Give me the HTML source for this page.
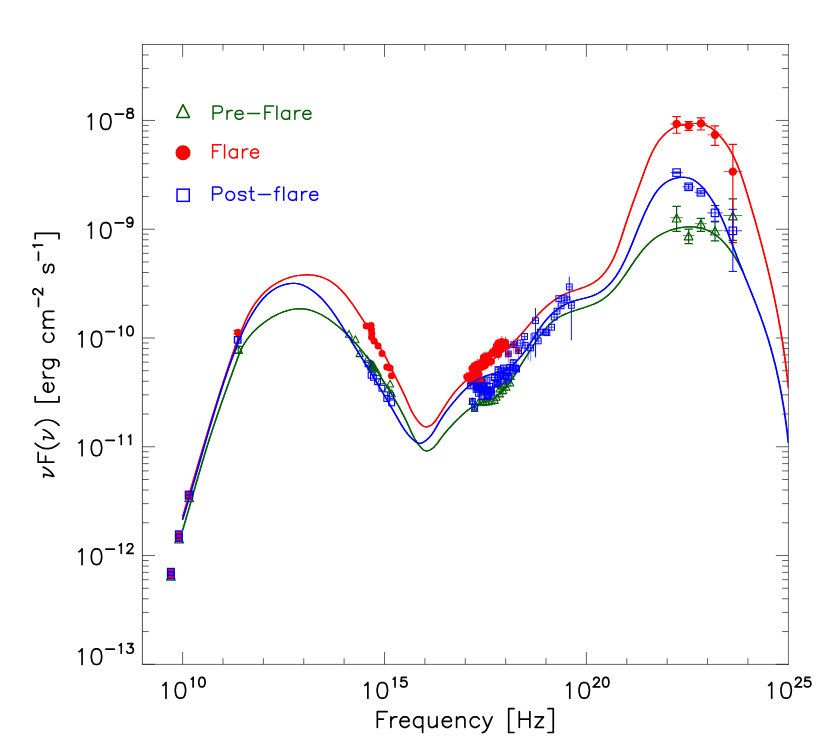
<!DOCTYPE html>
<html><head><meta charset="utf-8"><title>SED</title>
<style>html,body{margin:0;padding:0;background:#fff;font-family:"Liberation Sans",sans-serif;}svg{display:block}</style>
</head><body>
<svg width="830" height="755" viewBox="0 0 830 755">
<defs><clipPath id="clip"><rect x="142.40" y="44.50" width="646.05" height="619.90"/></clipPath></defs>
<rect width="830" height="755" fill="#fff"/>
<line x1="142.40" y1="44.20" x2="142.40" y2="664.70" stroke="#000" stroke-width="0.7"/>
<line x1="142.10" y1="44.50" x2="788.75" y2="44.50" stroke="#000" stroke-width="0.62"/>
<line x1="788.45" y1="44.20" x2="788.45" y2="664.70" stroke="#000" stroke-width="0.56"/>
<line x1="142.10" y1="664.40" x2="788.75" y2="664.40" stroke="#000" stroke-width="0.6"/>
<path d="M182.60 664.40v-12.40M182.60 44.50v12.40M222.98 664.40v-6.20M222.98 44.50v6.20M263.36 664.40v-6.20M263.36 44.50v6.20M303.74 664.40v-6.20M303.74 44.50v6.20M344.12 664.40v-6.20M344.12 44.50v6.20M384.50 664.40v-12.40M384.50 44.50v12.40M424.88 664.40v-6.20M424.88 44.50v6.20M465.26 664.40v-6.20M465.26 44.50v6.20M505.64 664.40v-6.20M505.64 44.50v6.20M546.02 664.40v-6.20M546.02 44.50v6.20M586.40 664.40v-12.40M586.40 44.50v12.40M626.78 664.40v-6.20M626.78 44.50v6.20M667.16 664.40v-6.20M667.16 44.50v6.20M707.54 664.40v-6.20M707.54 44.50v6.20M747.92 664.40v-6.20M747.92 44.50v6.20M142.40 664.30h12.60M788.45 664.30h-12.60M142.40 631.56h6.30M788.45 631.56h-6.30M142.40 612.40h6.30M788.45 612.40h-6.30M142.40 598.81h6.30M788.45 598.81h-6.30M142.40 588.27h6.30M788.45 588.27h-6.30M142.40 579.66h6.30M788.45 579.66h-6.30M142.40 572.38h6.30M788.45 572.38h-6.30M142.40 566.07h6.30M788.45 566.07h-6.30M142.40 560.51h6.30M788.45 560.51h-6.30M142.40 555.53h12.60M788.45 555.53h-12.60M142.40 522.79h6.30M788.45 522.79h-6.30M142.40 503.63h6.30M788.45 503.63h-6.30M142.40 490.04h6.30M788.45 490.04h-6.30M142.40 479.50h6.30M788.45 479.50h-6.30M142.40 470.89h6.30M788.45 470.89h-6.30M142.40 463.61h6.30M788.45 463.61h-6.30M142.40 457.30h6.30M788.45 457.30h-6.30M142.40 451.74h6.30M788.45 451.74h-6.30M142.40 446.76h12.60M788.45 446.76h-12.60M142.40 414.02h6.30M788.45 414.02h-6.30M142.40 394.86h6.30M788.45 394.86h-6.30M142.40 381.27h6.30M788.45 381.27h-6.30M142.40 370.73h6.30M788.45 370.73h-6.30M142.40 362.12h6.30M788.45 362.12h-6.30M142.40 354.84h6.30M788.45 354.84h-6.30M142.40 348.53h6.30M788.45 348.53h-6.30M142.40 342.97h6.30M788.45 342.97h-6.30M142.40 337.99h12.60M788.45 337.99h-12.60M142.40 305.25h6.30M788.45 305.25h-6.30M142.40 286.09h6.30M788.45 286.09h-6.30M142.40 272.50h6.30M788.45 272.50h-6.30M142.40 261.96h6.30M788.45 261.96h-6.30M142.40 253.35h6.30M788.45 253.35h-6.30M142.40 246.07h6.30M788.45 246.07h-6.30M142.40 239.76h6.30M788.45 239.76h-6.30M142.40 234.20h6.30M788.45 234.20h-6.30M142.40 229.22h12.60M788.45 229.22h-12.60M142.40 196.48h6.30M788.45 196.48h-6.30M142.40 177.32h6.30M788.45 177.32h-6.30M142.40 163.73h6.30M788.45 163.73h-6.30M142.40 153.19h6.30M788.45 153.19h-6.30M142.40 144.58h6.30M788.45 144.58h-6.30M142.40 137.30h6.30M788.45 137.30h-6.30M142.40 130.99h6.30M788.45 130.99h-6.30M142.40 125.43h6.30M788.45 125.43h-6.30M142.40 120.45h12.60M788.45 120.45h-12.60M142.40 87.71h6.30M788.45 87.71h-6.30M142.40 68.55h6.30M788.45 68.55h-6.30M142.40 54.96h6.30M788.45 54.96h-6.30" fill="none" stroke="#000" stroke-width="0.62"/>
<path transform="translate(157.63 698.20)" d="M5.24 -12.81L6.54 -13.56M6.54 -13.56L8.36 -15.64M8.36 -15.64L8.36 0.00M22.06 -15.64L23.54 -15.64M22.06 -15.64L19.85 -14.90M23.54 -15.64L25.75 -14.90M19.85 -14.90L18.38 -12.66M25.75 -14.90L27.22 -12.66M18.38 -12.66L17.64 -8.94M27.22 -12.66L27.96 -8.94M17.64 -8.94L17.64 -6.71M27.96 -8.94L27.96 -6.71M17.64 -6.71L18.38 -2.98M27.96 -6.71L27.22 -2.98M18.38 -2.98L19.85 -0.74M27.22 -2.98L25.75 -0.74M19.85 -0.74L22.06 0.00M25.75 -0.74L23.54 0.00M22.06 0.00L23.54 0.00M33.60 -19.07L34.39 -19.52M34.39 -19.52L35.50 -20.79M35.50 -20.79L35.50 -11.25M43.86 -20.79L44.76 -20.79M43.86 -20.79L42.51 -20.34M44.76 -20.79L46.11 -20.34M42.51 -20.34L41.61 -18.98M46.11 -20.34L47.01 -18.98M41.61 -18.98L41.16 -16.70M47.01 -18.98L47.46 -16.70M41.16 -16.70L41.16 -15.34M47.46 -16.70L47.46 -15.34M41.16 -15.34L41.61 -13.07M47.46 -15.34L47.01 -13.07M41.61 -13.07L42.51 -11.70M47.01 -13.07L46.11 -11.70M42.51 -11.70L43.86 -11.25M46.11 -11.70L44.76 -11.25M43.86 -11.25L44.76 -11.25" fill="none" stroke="#000" stroke-width="1.7" stroke-linecap="round" stroke-linejoin="round"/>
<path transform="translate(359.53 698.20)" d="M5.24 -12.81L6.54 -13.56M6.54 -13.56L8.36 -15.64M8.36 -15.64L8.36 0.00M22.06 -15.64L23.54 -15.64M22.06 -15.64L19.85 -14.90M23.54 -15.64L25.75 -14.90M19.85 -14.90L18.38 -12.66M25.75 -14.90L27.22 -12.66M18.38 -12.66L17.64 -8.94M27.22 -12.66L27.96 -8.94M17.64 -8.94L17.64 -6.71M27.96 -8.94L27.96 -6.71M17.64 -6.71L18.38 -2.98M27.96 -6.71L27.22 -2.98M18.38 -2.98L19.85 -0.74M27.22 -2.98L25.75 -0.74M19.85 -0.74L22.06 0.00M25.75 -0.74L23.54 0.00M22.06 0.00L23.54 0.00M33.60 -19.07L34.39 -19.52M34.39 -19.52L35.50 -20.79M35.50 -20.79L35.50 -11.25M41.99 -20.79L46.63 -20.79M41.99 -20.79L41.53 -16.70M43.38 -17.61L44.77 -17.61M43.38 -17.61L41.99 -17.16M44.77 -17.61L46.16 -17.16M41.99 -17.16L41.53 -16.70M46.16 -17.16L47.09 -16.25M47.09 -16.25L47.55 -14.89M47.55 -14.89L47.55 -13.98M47.55 -13.98L47.09 -12.61M41.06 -13.07L41.53 -12.16M47.09 -12.61L46.16 -11.70M41.53 -12.16L41.99 -11.70M41.99 -11.70L43.38 -11.25M46.16 -11.70L44.77 -11.25M43.38 -11.25L44.77 -11.25" fill="none" stroke="#000" stroke-width="1.7" stroke-linecap="round" stroke-linejoin="round"/>
<path transform="translate(561.43 698.20)" d="M5.24 -12.81L6.54 -13.56M6.54 -13.56L8.36 -15.64M8.36 -15.64L8.36 0.00M22.06 -15.64L23.54 -15.64M22.06 -15.64L19.85 -14.90M23.54 -15.64L25.75 -14.90M19.85 -14.90L18.38 -12.66M25.75 -14.90L27.22 -12.66M18.38 -12.66L17.64 -8.94M27.22 -12.66L27.96 -8.94M17.64 -8.94L17.64 -6.71M27.96 -8.94L27.96 -6.71M17.64 -6.71L18.38 -2.98M27.96 -6.71L27.22 -2.98M18.38 -2.98L19.85 -0.74M27.22 -2.98L25.75 -0.74M19.85 -0.74L22.06 0.00M25.75 -0.74L23.54 0.00M22.06 0.00L23.54 0.00M34.11 -20.79L35.96 -20.79M34.11 -20.79L33.18 -20.34M35.96 -20.79L36.89 -20.34M33.18 -20.34L32.72 -19.88M36.89 -20.34L37.35 -19.88M32.72 -19.88L32.25 -18.98M37.35 -19.88L37.82 -18.98M32.25 -18.98L32.25 -18.52M37.82 -18.98L37.82 -18.07M37.82 -18.07L37.35 -17.16M37.35 -17.16L36.43 -15.79M36.43 -15.79L31.79 -11.25M31.79 -11.25L38.28 -11.25M43.86 -20.79L44.76 -20.79M43.86 -20.79L42.51 -20.34M44.76 -20.79L46.11 -20.34M42.51 -20.34L41.61 -18.98M46.11 -20.34L47.01 -18.98M41.61 -18.98L41.16 -16.70M47.01 -18.98L47.46 -16.70M41.16 -16.70L41.16 -15.34M47.46 -16.70L47.46 -15.34M41.16 -15.34L41.61 -13.07M47.46 -15.34L47.01 -13.07M41.61 -13.07L42.51 -11.70M47.01 -13.07L46.11 -11.70M42.51 -11.70L43.86 -11.25M46.11 -11.70L44.76 -11.25M43.86 -11.25L44.76 -11.25" fill="none" stroke="#000" stroke-width="1.7" stroke-linecap="round" stroke-linejoin="round"/>
<path transform="translate(763.33 698.20)" d="M5.24 -12.81L6.54 -13.56M6.54 -13.56L8.36 -15.64M8.36 -15.64L8.36 0.00M22.06 -15.64L23.54 -15.64M22.06 -15.64L19.85 -14.90M23.54 -15.64L25.75 -14.90M19.85 -14.90L18.38 -12.66M25.75 -14.90L27.22 -12.66M18.38 -12.66L17.64 -8.94M27.22 -12.66L27.96 -8.94M17.64 -8.94L17.64 -6.71M27.96 -8.94L27.96 -6.71M17.64 -6.71L18.38 -2.98M27.96 -6.71L27.22 -2.98M18.38 -2.98L19.85 -0.74M27.22 -2.98L25.75 -0.74M19.85 -0.74L22.06 0.00M25.75 -0.74L23.54 0.00M22.06 0.00L23.54 0.00M34.11 -20.79L35.96 -20.79M34.11 -20.79L33.18 -20.34M35.96 -20.79L36.89 -20.34M33.18 -20.34L32.72 -19.88M36.89 -20.34L37.35 -19.88M32.72 -19.88L32.25 -18.98M37.35 -19.88L37.82 -18.98M32.25 -18.98L32.25 -18.52M37.82 -18.98L37.82 -18.07M37.82 -18.07L37.35 -17.16M37.35 -17.16L36.43 -15.79M36.43 -15.79L31.79 -11.25M31.79 -11.25L38.28 -11.25M41.99 -20.79L46.63 -20.79M41.99 -20.79L41.53 -16.70M43.38 -17.61L44.77 -17.61M43.38 -17.61L41.99 -17.16M44.77 -17.61L46.16 -17.16M41.99 -17.16L41.53 -16.70M46.16 -17.16L47.09 -16.25M47.09 -16.25L47.55 -14.89M47.55 -14.89L47.55 -13.98M47.55 -13.98L47.09 -12.61M41.06 -13.07L41.53 -12.16M47.09 -12.61L46.16 -11.70M41.53 -12.16L41.99 -11.70M41.99 -11.70L43.38 -11.25M46.16 -11.70L44.77 -11.25M43.38 -11.25L44.77 -11.25" fill="none" stroke="#000" stroke-width="1.7" stroke-linecap="round" stroke-linejoin="round"/>
<path transform="translate(73.70 664.50)" d="M5.24 -12.81L6.54 -13.56M6.54 -13.56L8.36 -15.64M8.36 -15.64L8.36 0.00M22.06 -15.64L23.54 -15.64M22.06 -15.64L19.85 -14.90M23.54 -15.64L25.75 -14.90M19.85 -14.90L18.38 -12.66M25.75 -14.90L27.22 -12.66M18.38 -12.66L17.64 -8.94M27.22 -12.66L27.96 -8.94M17.64 -8.94L17.64 -6.71M27.96 -8.94L27.96 -6.71M17.64 -6.71L18.38 -2.98M27.96 -6.71L27.22 -2.98M18.38 -2.98L19.85 -0.74M27.22 -2.98L25.75 -0.74M19.85 -0.74L22.06 0.00M25.75 -0.74L23.54 0.00M22.06 0.00L23.54 0.00M32.25 -15.34L40.60 -15.34M45.65 -19.07L46.44 -19.52M46.44 -19.52L47.55 -20.79M47.55 -20.79L47.55 -11.25M54.04 -20.79L59.14 -20.79M59.14 -20.79L56.36 -17.16M56.36 -17.16L57.75 -17.16M57.75 -17.16L58.68 -16.70M58.68 -16.70L59.14 -16.25M59.14 -16.25L59.61 -14.89M59.61 -14.89L59.61 -13.98M59.61 -13.98L59.14 -12.61M53.12 -13.07L53.58 -12.16M59.14 -12.61L58.22 -11.70M53.58 -12.16L54.04 -11.70M54.04 -11.70L55.43 -11.25M58.22 -11.70L56.83 -11.25M55.43 -11.25L56.83 -11.25" fill="none" stroke="#000" stroke-width="1.7" stroke-linecap="round" stroke-linejoin="round"/>
<path transform="translate(73.70 564.53)" d="M5.24 -12.81L6.54 -13.56M6.54 -13.56L8.36 -15.64M8.36 -15.64L8.36 0.00M22.06 -15.64L23.54 -15.64M22.06 -15.64L19.85 -14.90M23.54 -15.64L25.75 -14.90M19.85 -14.90L18.38 -12.66M25.75 -14.90L27.22 -12.66M18.38 -12.66L17.64 -8.94M27.22 -12.66L27.96 -8.94M17.64 -8.94L17.64 -6.71M27.96 -8.94L27.96 -6.71M17.64 -6.71L18.38 -2.98M27.96 -6.71L27.22 -2.98M18.38 -2.98L19.85 -0.74M27.22 -2.98L25.75 -0.74M19.85 -0.74L22.06 0.00M25.75 -0.74L23.54 0.00M22.06 0.00L23.54 0.00M32.25 -15.34L40.60 -15.34M45.65 -19.07L46.44 -19.52M46.44 -19.52L47.55 -20.79M47.55 -20.79L47.55 -11.25M55.43 -20.79L57.29 -20.79M55.43 -20.79L54.51 -20.34M57.29 -20.79L58.22 -20.34M54.51 -20.34L54.04 -19.88M58.22 -20.34L58.68 -19.88M54.04 -19.88L53.58 -18.98M58.68 -19.88L59.14 -18.98M53.58 -18.98L53.58 -18.52M59.14 -18.98L59.14 -18.07M59.14 -18.07L58.68 -17.16M58.68 -17.16L57.75 -15.79M57.75 -15.79L53.12 -11.25M53.12 -11.25L59.61 -11.25" fill="none" stroke="#000" stroke-width="1.7" stroke-linecap="round" stroke-linejoin="round"/>
<path transform="translate(73.70 455.76)" d="M5.24 -12.81L6.54 -13.56M6.54 -13.56L8.36 -15.64M8.36 -15.64L8.36 0.00M22.06 -15.64L23.54 -15.64M22.06 -15.64L19.85 -14.90M23.54 -15.64L25.75 -14.90M19.85 -14.90L18.38 -12.66M25.75 -14.90L27.22 -12.66M18.38 -12.66L17.64 -8.94M27.22 -12.66L27.96 -8.94M17.64 -8.94L17.64 -6.71M27.96 -8.94L27.96 -6.71M17.64 -6.71L18.38 -2.98M27.96 -6.71L27.22 -2.98M18.38 -2.98L19.85 -0.74M27.22 -2.98L25.75 -0.74M19.85 -0.74L22.06 0.00M25.75 -0.74L23.54 0.00M22.06 0.00L23.54 0.00M32.25 -15.34L40.60 -15.34M45.65 -19.07L46.44 -19.52M46.44 -19.52L47.55 -20.79M47.55 -20.79L47.55 -11.25M54.92 -19.07L55.71 -19.52M55.71 -19.52L56.83 -20.79M56.83 -20.79L56.83 -11.25" fill="none" stroke="#000" stroke-width="1.7" stroke-linecap="round" stroke-linejoin="round"/>
<path transform="translate(73.70 346.99)" d="M5.24 -12.81L6.54 -13.56M6.54 -13.56L8.36 -15.64M8.36 -15.64L8.36 0.00M22.06 -15.64L23.54 -15.64M22.06 -15.64L19.85 -14.90M23.54 -15.64L25.75 -14.90M19.85 -14.90L18.38 -12.66M25.75 -14.90L27.22 -12.66M18.38 -12.66L17.64 -8.94M27.22 -12.66L27.96 -8.94M17.64 -8.94L17.64 -6.71M27.96 -8.94L27.96 -6.71M17.64 -6.71L18.38 -2.98M27.96 -6.71L27.22 -2.98M18.38 -2.98L19.85 -0.74M27.22 -2.98L25.75 -0.74M19.85 -0.74L22.06 0.00M25.75 -0.74L23.54 0.00M22.06 0.00L23.54 0.00M32.25 -15.34L40.60 -15.34M45.65 -19.07L46.44 -19.52M46.44 -19.52L47.55 -20.79M47.55 -20.79L47.55 -11.25M55.91 -20.79L56.81 -20.79M55.91 -20.79L54.56 -20.34M56.81 -20.79L58.16 -20.34M54.56 -20.34L53.66 -18.98M58.16 -20.34L59.06 -18.98M53.66 -18.98L53.21 -16.70M59.06 -18.98L59.51 -16.70M53.21 -16.70L53.21 -15.34M59.51 -16.70L59.51 -15.34M53.21 -15.34L53.66 -13.07M59.51 -15.34L59.06 -13.07M53.66 -13.07L54.56 -11.70M59.06 -13.07L58.16 -11.70M54.56 -11.70L55.91 -11.25M58.16 -11.70L56.81 -11.25M55.91 -11.25L56.81 -11.25" fill="none" stroke="#000" stroke-width="1.7" stroke-linecap="round" stroke-linejoin="round"/>
<path transform="translate(82.97 238.22)" d="M5.24 -12.81L6.54 -13.56M6.54 -13.56L8.36 -15.64M8.36 -15.64L8.36 0.00M22.06 -15.64L23.54 -15.64M22.06 -15.64L19.85 -14.90M23.54 -15.64L25.75 -14.90M19.85 -14.90L18.38 -12.66M25.75 -14.90L27.22 -12.66M18.38 -12.66L17.64 -8.94M27.22 -12.66L27.96 -8.94M17.64 -8.94L17.64 -6.71M27.96 -8.94L27.96 -6.71M17.64 -6.71L18.38 -2.98M27.96 -6.71L27.22 -2.98M18.38 -2.98L19.85 -0.74M27.22 -2.98L25.75 -0.74M19.85 -0.74L22.06 0.00M25.75 -0.74L23.54 0.00M22.06 0.00L23.54 0.00M32.25 -15.34L40.60 -15.34M46.63 -20.79L47.09 -20.79M46.63 -20.79L45.24 -20.34M47.09 -20.79L48.48 -20.34M45.24 -20.34L44.31 -19.43M48.48 -20.34L49.41 -19.43M44.31 -19.43L43.84 -18.07M49.41 -19.43L49.87 -17.61M43.84 -18.07L43.84 -17.61M43.84 -17.61L44.31 -16.25M49.87 -17.61L49.41 -16.25M49.87 -17.61L49.87 -15.34M44.31 -16.25L45.24 -15.34M49.41 -16.25L48.48 -15.34M45.24 -15.34L46.63 -14.89M48.48 -15.34L47.09 -14.89M49.87 -15.34L49.41 -13.07M46.63 -14.89L47.09 -14.89M49.41 -13.07L48.48 -11.70M44.31 -12.61L44.77 -11.70M44.77 -11.70L46.16 -11.25M48.48 -11.70L47.09 -11.25M46.16 -11.25L47.09 -11.25" fill="none" stroke="#000" stroke-width="1.7" stroke-linecap="round" stroke-linejoin="round"/>
<path transform="translate(82.97 129.45)" d="M5.24 -12.81L6.54 -13.56M6.54 -13.56L8.36 -15.64M8.36 -15.64L8.36 0.00M22.06 -15.64L23.54 -15.64M22.06 -15.64L19.85 -14.90M23.54 -15.64L25.75 -14.90M19.85 -14.90L18.38 -12.66M25.75 -14.90L27.22 -12.66M18.38 -12.66L17.64 -8.94M27.22 -12.66L27.96 -8.94M17.64 -8.94L17.64 -6.71M27.96 -8.94L27.96 -6.71M17.64 -6.71L18.38 -2.98M27.96 -6.71L27.22 -2.98M18.38 -2.98L19.85 -0.74M27.22 -2.98L25.75 -0.74M19.85 -0.74L22.06 0.00M25.75 -0.74L23.54 0.00M22.06 0.00L23.54 0.00M32.25 -15.34L40.60 -15.34M46.16 -20.79L48.02 -20.79M46.16 -20.79L44.77 -20.34M48.02 -20.79L49.41 -20.34M44.77 -20.34L44.31 -19.43M49.41 -20.34L49.87 -19.43M44.31 -19.43L44.31 -18.52M49.87 -19.43L49.87 -18.52M44.31 -18.52L44.77 -17.61M49.87 -18.52L49.41 -17.61M44.77 -17.61L45.70 -17.16M49.41 -17.61L48.48 -17.16M45.70 -17.16L47.55 -16.70M48.48 -17.16L46.63 -16.70M46.63 -16.70L45.24 -16.25M47.55 -16.70L48.94 -16.25M45.24 -16.25L44.31 -15.34M48.94 -16.25L49.87 -15.34M44.31 -15.34L43.84 -14.43M49.87 -15.34L50.33 -14.43M43.84 -14.43L43.84 -13.07M50.33 -14.43L50.33 -13.07M43.84 -13.07L44.31 -12.16M50.33 -13.07L49.87 -12.16M44.31 -12.16L44.77 -11.70M49.87 -12.16L49.41 -11.70M44.77 -11.70L46.16 -11.25M49.41 -11.70L48.02 -11.25M46.16 -11.25L48.02 -11.25" fill="none" stroke="#000" stroke-width="1.7" stroke-linecap="round" stroke-linejoin="round"/>
<path transform="translate(374.32 727.30)" d="M3.02 -15.64L12.84 -15.64M3.02 -15.64L3.02 0.00M3.02 -8.20L9.06 -8.20M16.61 -10.43L16.61 0.00M20.39 -10.43L22.65 -10.43M20.39 -10.43L18.88 -9.69M18.88 -9.69L17.36 -8.20M17.36 -8.20L16.61 -5.96M29.45 -10.43L31.71 -10.43M29.45 -10.43L27.93 -9.69M31.71 -10.43L33.22 -9.69M27.93 -9.69L26.43 -8.20M33.22 -9.69L33.98 -8.94M33.98 -8.94L34.73 -7.45M26.43 -8.20L25.67 -5.96M34.73 -7.45L34.73 -5.96M25.67 -5.96L34.73 -5.96M25.67 -5.96L25.67 -4.47M25.67 -4.47L26.43 -2.23M26.43 -2.23L27.93 -0.74M34.73 -2.23L33.22 -0.74M27.93 -0.74L29.45 0.00M33.22 -0.74L31.71 0.00M29.45 0.00L31.71 0.00M43.04 -10.43L45.30 -10.43M43.04 -10.43L41.52 -9.69M45.30 -10.43L46.81 -9.69M48.32 -10.43L48.32 5.21M41.52 -9.69L40.02 -8.20M46.81 -9.69L48.32 -8.20M40.02 -8.20L39.26 -5.96M39.26 -5.96L39.26 -4.47M39.26 -4.47L40.02 -2.23M40.02 -2.23L41.52 -0.74M48.32 -2.23L46.81 -0.74M41.52 -0.74L43.04 0.00M46.81 -0.74L45.30 0.00M43.04 0.00L45.30 0.00M54.36 -10.43L54.36 -2.98M62.66 -10.43L62.66 0.00M54.36 -2.98L55.12 -0.74M62.66 -2.98L60.40 -0.74M55.12 -0.74L56.62 0.00M60.40 -0.74L58.89 0.00M56.62 0.00L58.89 0.00M71.72 -10.43L73.99 -10.43M71.72 -10.43L70.22 -9.69M73.99 -10.43L75.50 -9.69M70.22 -9.69L68.70 -8.20M75.50 -9.69L76.25 -8.94M76.25 -8.94L77.01 -7.45M68.70 -8.20L67.95 -5.96M77.01 -7.45L77.01 -5.96M67.95 -5.96L77.01 -5.96M67.95 -5.96L67.95 -4.47M67.95 -4.47L68.70 -2.23M68.70 -2.23L70.22 -0.74M77.01 -2.23L75.50 -0.74M70.22 -0.74L71.72 0.00M75.50 -0.74L73.99 0.00M71.72 0.00L73.99 0.00M82.30 -10.43L82.30 0.00M86.07 -10.43L88.33 -10.43M86.07 -10.43L84.56 -9.69M88.33 -10.43L89.84 -9.69M84.56 -9.69L82.30 -7.45M89.84 -9.69L90.60 -7.45M90.60 -7.45L90.60 0.00M99.66 -10.43L101.92 -10.43M99.66 -10.43L98.15 -9.69M101.92 -10.43L103.44 -9.69M98.15 -9.69L96.64 -8.20M103.44 -9.69L104.95 -8.20M96.64 -8.20L95.89 -5.96M95.89 -5.96L95.89 -4.47M95.89 -4.47L96.64 -2.23M96.64 -2.23L98.15 -0.74M104.95 -2.23L103.44 -0.74M98.15 -0.74L99.66 0.00M103.44 -0.74L101.92 0.00M99.66 0.00L101.92 0.00M108.72 -10.43L113.25 0.00M117.78 -10.43L113.25 0.00M113.25 0.00L111.74 2.98M111.74 2.98L110.23 4.47M110.23 4.47L108.72 5.21M107.97 5.21L108.72 5.21M134.39 -18.62L139.68 -18.62M134.39 -18.62L134.39 5.21M134.39 5.21L139.68 5.21M144.96 -15.64L144.96 0.00M155.53 -15.64L155.53 0.00M144.96 -8.20L155.53 -8.20M160.81 -10.43L169.12 -10.43M169.12 -10.43L160.81 0.00M160.81 0.00L169.12 0.00M173.65 -18.62L178.94 -18.62M178.94 -18.62L178.94 5.21M173.65 5.21L178.94 5.21" fill="none" stroke="#000" stroke-width="1.7" stroke-linecap="round" stroke-linejoin="round"/>
<path transform="translate(53.80 478.60) rotate(-90)" d="M1.51 -10.13L4.23 -10.13M4.23 -10.13L2.27 0.00M2.27 0.00L3.81 -0.90M3.81 -0.90L5.25 -1.92M5.25 -1.92L6.57 -3.06M6.57 -3.06L7.78 -4.32M7.78 -4.32L8.87 -5.70M8.87 -5.70L9.85 -7.21M9.85 -7.21L10.72 -8.83M10.72 -8.83L11.48 -10.58M16.46 -15.64L26.27 -15.64M16.46 -15.64L16.46 0.00M16.46 -8.20L22.50 -8.20M35.33 -18.62L33.82 -17.14M33.82 -17.14L32.31 -14.90M32.31 -14.90L30.80 -11.92M30.80 -11.92L30.05 -8.20M30.05 -8.20L30.05 -5.21M30.05 -5.21L30.80 -1.49M30.80 -1.49L32.31 1.49M32.31 1.49L33.82 3.73M33.82 3.73L35.33 5.21M39.11 -10.13L41.83 -10.13M41.83 -10.13L39.86 0.00M39.86 0.00L41.41 -0.90M41.41 -0.90L42.85 -1.92M42.85 -1.92L44.17 -3.06M44.17 -3.06L45.38 -4.32M45.38 -4.32L46.47 -5.70M46.47 -5.70L47.45 -7.21M47.45 -7.21L48.32 -8.83M48.32 -8.83L49.08 -10.58M53.30 -18.62L54.81 -17.14M54.81 -17.14L56.32 -14.90M56.32 -14.90L57.83 -11.92M57.83 -11.92L58.59 -8.20M58.59 -8.20L58.59 -5.21M58.59 -5.21L57.83 -1.49M57.83 -1.49L56.32 1.49M56.32 1.49L54.81 3.73M54.81 3.73L53.30 5.21M76.71 -18.62L81.99 -18.62M76.71 -18.62L76.71 5.21M76.71 5.21L81.99 5.21M90.30 -10.43L92.56 -10.43M90.30 -10.43L88.79 -9.69M92.56 -10.43L94.07 -9.69M88.79 -9.69L87.28 -8.20M94.07 -9.69L94.83 -8.94M94.83 -8.94L95.58 -7.45M87.28 -8.20L86.52 -5.96M95.58 -7.45L95.58 -5.96M86.52 -5.96L95.58 -5.96M86.52 -5.96L86.52 -4.47M86.52 -4.47L87.28 -2.23M87.28 -2.23L88.79 -0.74M95.58 -2.23L94.07 -0.74M88.79 -0.74L90.30 0.00M94.07 -0.74L92.56 0.00M90.30 0.00L92.56 0.00M100.87 -10.43L100.87 0.00M104.64 -10.43L106.91 -10.43M104.64 -10.43L103.13 -9.69M103.13 -9.69L101.62 -8.20M101.62 -8.20L100.87 -5.96M113.70 -10.43L115.97 -10.43M113.70 -10.43L112.19 -9.69M115.97 -10.43L117.48 -9.69M118.99 -10.43L118.99 1.49M112.19 -9.69L110.68 -8.20M117.48 -9.69L118.99 -8.20M110.68 -8.20L109.93 -5.96M109.93 -5.96L109.93 -4.47M109.93 -4.47L110.68 -2.23M110.68 -2.23L112.19 -0.74M118.99 -2.23L117.48 -0.74M112.19 -0.74L113.70 0.00M117.48 -0.74L115.97 0.00M113.70 0.00L115.97 0.00M118.99 1.49L118.23 3.73M118.23 3.73L117.48 4.47M112.19 4.47L113.70 5.21M117.48 4.47L115.97 5.21M113.70 5.21L115.97 5.21M140.13 -10.43L142.39 -10.43M140.13 -10.43L138.62 -9.69M142.39 -10.43L143.90 -9.69M138.62 -9.69L137.11 -8.20M143.90 -9.69L145.41 -8.20M137.11 -8.20L136.35 -5.96M136.35 -5.96L136.35 -4.47M136.35 -4.47L137.11 -2.23M137.11 -2.23L138.62 -0.74M145.41 -2.23L143.90 -0.74M138.62 -0.74L140.13 0.00M143.90 -0.74L142.39 0.00M140.13 0.00L142.39 0.00M150.70 -10.43L150.70 0.00M154.47 -10.43L156.74 -10.43M154.47 -10.43L152.96 -9.69M156.74 -10.43L158.25 -9.69M162.78 -10.43L165.04 -10.43M162.78 -10.43L161.27 -9.69M165.04 -10.43L166.55 -9.69M152.96 -9.69L150.70 -7.45M158.25 -9.69L159.00 -7.45M161.27 -9.69L159.00 -7.45M166.55 -9.69L167.31 -7.45M159.00 -7.45L159.00 0.00M167.31 -7.45L167.31 0.00M172.17 -15.34L180.46 -15.34M185.99 -20.79L187.83 -20.79M185.99 -20.79L185.07 -20.34M187.83 -20.79L188.75 -20.34M185.07 -20.34L184.61 -19.88M188.75 -20.34L189.21 -19.88M184.61 -19.88L184.14 -18.98M189.21 -19.88L189.67 -18.98M184.14 -18.98L184.14 -18.52M189.67 -18.98L189.67 -18.07M189.67 -18.07L189.21 -17.16M189.21 -17.16L188.29 -15.79M188.29 -15.79L183.68 -11.25M183.68 -11.25L190.13 -11.25M208.88 -10.43L211.14 -10.43M208.88 -10.43L206.61 -9.69M211.14 -10.43L213.41 -9.69M206.61 -9.69L205.86 -8.20M213.41 -9.69L214.16 -8.20M205.86 -8.20L206.61 -6.71M206.61 -6.71L208.12 -5.96M208.12 -5.96L211.90 -5.21M211.90 -5.21L213.41 -4.47M213.41 -4.47L214.16 -2.98M214.16 -2.98L214.16 -2.23M205.86 -2.23L206.61 -0.74M214.16 -2.23L213.41 -0.74M206.61 -0.74L208.88 0.00M213.41 -0.74L211.14 0.00M208.88 0.00L211.14 0.00M218.27 -15.34L226.56 -15.34M231.58 -19.07L232.36 -19.52M232.36 -19.52L233.47 -20.79M233.47 -20.79L233.47 -11.25M239.88 -18.62L245.16 -18.62M245.16 -18.62L245.16 5.21M239.88 5.21L245.16 5.21" fill="none" stroke="#000" stroke-width="1.7" stroke-linecap="round" stroke-linejoin="round"/>
<g clip-path="url(#clip)">
<path d="M170.90 571.91L175.20 580.08L166.60 580.08Z" fill="none" stroke="#065f06" stroke-width="1.3" stroke-linejoin="round"/>
<path d="M179.10 534.71L183.40 542.88L174.80 542.88Z" fill="none" stroke="#065f06" stroke-width="1.3" stroke-linejoin="round"/>
<path d="M189.20 493.41L193.50 501.58L184.90 501.58Z" fill="none" stroke="#065f06" stroke-width="1.3" stroke-linejoin="round"/>
<path d="M238.30 346.40V353.40M234.10 346.40h8.40M234.10 353.40h8.40" fill="none" stroke="#065f06" stroke-width="1.2" opacity="1"/>
<path d="M238.30 345.32L242.40 353.11L234.20 353.11Z" fill="none" stroke="#065f06" stroke-width="1.2" stroke-linejoin="round"/>
<path d="M348.90 330.44L352.50 337.28L345.30 337.28Z" fill="none" stroke="#065f06" stroke-width="1.1" stroke-linejoin="round"/>
<path d="M355.40 335.84L359.00 342.68L351.80 342.68Z" fill="none" stroke="#065f06" stroke-width="1.1" stroke-linejoin="round"/>
<path d="M359.70 349.74L363.30 356.58L356.10 356.58Z" fill="none" stroke="#065f06" stroke-width="1.1" stroke-linejoin="round"/>
<path d="M367.20 355.64L370.80 362.48L363.60 362.48Z" fill="none" stroke="#065f06" stroke-width="1.1" stroke-linejoin="round"/>
<path d="M370.50 359.84L374.10 366.68L366.90 366.68Z" fill="none" stroke="#065f06" stroke-width="1.1" stroke-linejoin="round"/>
<path d="M372.00 361.64L375.60 368.48L368.40 368.48Z" fill="none" stroke="#065f06" stroke-width="1.1" stroke-linejoin="round"/>
<path d="M372.90 363.04L376.50 369.88L369.30 369.88Z" fill="none" stroke="#065f06" stroke-width="1.1" stroke-linejoin="round"/>
<path d="M374.20 364.84L377.80 371.68L370.60 371.68Z" fill="none" stroke="#065f06" stroke-width="1.1" stroke-linejoin="round"/>
<path d="M371.50 363.74L375.10 370.58L367.90 370.58Z" fill="none" stroke="#065f06" stroke-width="1.1" stroke-linejoin="round"/>
<path d="M373.40 361.44L377.00 368.28L369.80 368.28Z" fill="none" stroke="#065f06" stroke-width="1.1" stroke-linejoin="round"/>
<path d="M370.90 362.14L374.50 368.98L367.30 368.98Z" fill="none" stroke="#065f06" stroke-width="1.1" stroke-linejoin="round"/>
<path d="M372.60 364.14L376.20 370.98L369.00 370.98Z" fill="none" stroke="#065f06" stroke-width="1.1" stroke-linejoin="round"/>
<path d="M373.70 363.44L377.30 370.28L370.10 370.28Z" fill="none" stroke="#065f06" stroke-width="1.1" stroke-linejoin="round"/>
<path d="M371.90 360.54L375.50 367.38L368.30 367.38Z" fill="none" stroke="#065f06" stroke-width="1.1" stroke-linejoin="round"/>
<path d="M377.60 368.74L381.20 375.58L374.00 375.58Z" fill="none" stroke="#065f06" stroke-width="1.1" stroke-linejoin="round"/>
<path d="M380.80 376.84L384.40 383.68L377.20 383.68Z" fill="none" stroke="#065f06" stroke-width="1.1" stroke-linejoin="round"/>
<path d="M390.10 380.14L393.70 386.98L386.50 386.98Z" fill="none" stroke="#065f06" stroke-width="1.1" stroke-linejoin="round"/>
<path d="M391.70 389.84L395.30 396.68L388.10 396.68Z" fill="none" stroke="#065f06" stroke-width="1.1" stroke-linejoin="round"/>
<path d="M387.60 385.04L391.20 391.88L384.00 391.88Z" fill="none" stroke="#065f06" stroke-width="1.1" stroke-linejoin="round"/>
<path d="M478.50 398.80V406.60" stroke="#065f06" stroke-width="0.8" opacity="0.8"/>
<path d="M478.50 398.85L481.90 405.31L475.10 405.31Z" fill="none" stroke="#065f06" stroke-width="1.15" stroke-linejoin="round"/>
<path d="M481.20 398.40V406.20" stroke="#065f06" stroke-width="0.8" opacity="0.8"/>
<path d="M481.20 398.45L484.60 404.91L477.80 404.91Z" fill="none" stroke="#065f06" stroke-width="1.15" stroke-linejoin="round"/>
<path d="M483.60 398.90V406.70" stroke="#065f06" stroke-width="0.8" opacity="0.8"/>
<path d="M483.60 398.95L487.00 405.41L480.20 405.41Z" fill="none" stroke="#065f06" stroke-width="1.15" stroke-linejoin="round"/>
<path d="M486.30 398.30V406.10" stroke="#065f06" stroke-width="0.8" opacity="0.8"/>
<path d="M486.30 398.35L489.70 404.81L482.90 404.81Z" fill="none" stroke="#065f06" stroke-width="1.15" stroke-linejoin="round"/>
<path d="M489.20 398.10V405.90" stroke="#065f06" stroke-width="0.8" opacity="0.8"/>
<path d="M489.20 398.15L492.60 404.61L485.80 404.61Z" fill="none" stroke="#065f06" stroke-width="1.15" stroke-linejoin="round"/>
<path d="M491.60 397.40V405.20" stroke="#065f06" stroke-width="0.8" opacity="0.8"/>
<path d="M491.60 397.45L495.00 403.91L488.20 403.91Z" fill="none" stroke="#065f06" stroke-width="1.15" stroke-linejoin="round"/>
<path d="M494.90 396.80V404.60" stroke="#065f06" stroke-width="0.8" opacity="0.8"/>
<path d="M494.90 396.85L498.30 403.31L491.50 403.31Z" fill="none" stroke="#065f06" stroke-width="1.15" stroke-linejoin="round"/>
<path d="M472.40 398.00V405.80" stroke="#065f06" stroke-width="0.8" opacity="0.8"/>
<path d="M472.40 398.05L475.80 404.51L469.00 404.51Z" fill="none" stroke="#065f06" stroke-width="1.15" stroke-linejoin="round"/>
<path d="M474.60 406.10V411.30M473.00 406.10h3.20M473.00 411.30h3.20" fill="none" stroke="#065f06" stroke-width="0.8" opacity="0.8"/>
<path d="M474.60 405.15L477.90 411.42L471.30 411.42Z" fill="none" stroke="#065f06" stroke-width="1.1" stroke-linejoin="round"/>
<path d="M500.20 391.60V396.80M498.60 391.60h3.20M498.60 396.80h3.20" fill="none" stroke="#065f06" stroke-width="0.8" opacity="0.8"/>
<path d="M500.20 390.65L503.50 396.92L496.90 396.92Z" fill="none" stroke="#065f06" stroke-width="1.1" stroke-linejoin="round"/>
<path d="M499.10 386.70V391.90M497.50 386.70h3.20M497.50 391.90h3.20" fill="none" stroke="#065f06" stroke-width="0.8" opacity="0.8"/>
<path d="M499.10 385.75L502.40 392.02L495.80 392.02Z" fill="none" stroke="#065f06" stroke-width="1.1" stroke-linejoin="round"/>
<path d="M503.40 388.30V393.50M501.80 388.30h3.20M501.80 393.50h3.20" fill="none" stroke="#065f06" stroke-width="0.8" opacity="0.8"/>
<path d="M503.40 387.35L506.70 393.62L500.10 393.62Z" fill="none" stroke="#065f06" stroke-width="1.1" stroke-linejoin="round"/>
<path d="M506.70 385.00V390.20M505.10 385.00h3.20M505.10 390.20h3.20" fill="none" stroke="#065f06" stroke-width="0.8" opacity="0.8"/>
<path d="M506.70 384.05L510.00 390.32L503.40 390.32Z" fill="none" stroke="#065f06" stroke-width="1.1" stroke-linejoin="round"/>
<path d="M504.50 381.80V387.00M502.90 381.80h3.20M502.90 387.00h3.20" fill="none" stroke="#065f06" stroke-width="0.8" opacity="0.8"/>
<path d="M504.50 380.85L507.80 387.12L501.20 387.12Z" fill="none" stroke="#065f06" stroke-width="1.1" stroke-linejoin="round"/>
<path d="M510.50 380.70V385.90M508.90 380.70h3.20M508.90 385.90h3.20" fill="none" stroke="#065f06" stroke-width="0.8" opacity="0.8"/>
<path d="M510.50 379.75L513.80 386.02L507.20 386.02Z" fill="none" stroke="#065f06" stroke-width="1.1" stroke-linejoin="round"/>
<path d="M498.00 381.80V387.00M496.40 381.80h3.20M496.40 387.00h3.20" fill="none" stroke="#065f06" stroke-width="0.8" opacity="0.8"/>
<path d="M498.00 380.85L501.30 387.12L494.70 387.12Z" fill="none" stroke="#065f06" stroke-width="1.1" stroke-linejoin="round"/>
<path d="M511.00 374.20V379.40M509.40 374.20h3.20M509.40 379.40h3.20" fill="none" stroke="#065f06" stroke-width="0.8" opacity="0.8"/>
<path d="M511.00 373.25L514.30 379.52L507.70 379.52Z" fill="none" stroke="#065f06" stroke-width="1.1" stroke-linejoin="round"/>
<path d="M496.80 395.00V400.20M495.20 395.00h3.20M495.20 400.20h3.20" fill="none" stroke="#065f06" stroke-width="0.8" opacity="0.8"/>
<path d="M496.80 394.05L500.10 400.32L493.50 400.32Z" fill="none" stroke="#065f06" stroke-width="1.1" stroke-linejoin="round"/>
<path d="M501.50 384.00V389.20M499.90 384.00h3.20M499.90 389.20h3.20" fill="none" stroke="#065f06" stroke-width="0.8" opacity="0.8"/>
<path d="M501.50 383.05L504.80 389.32L498.20 389.32Z" fill="none" stroke="#065f06" stroke-width="1.1" stroke-linejoin="round"/>
<path d="M508.30 377.70V382.90M506.70 377.70h3.20M506.70 382.90h3.20" fill="none" stroke="#065f06" stroke-width="0.8" opacity="0.8"/>
<path d="M508.30 376.75L511.60 383.02L505.00 383.02Z" fill="none" stroke="#065f06" stroke-width="1.1" stroke-linejoin="round"/>
<path d="M676.60 206.40V231.30M672.40 206.40h8.40M672.40 231.30h8.40" fill="none" stroke="#065f06" stroke-width="1.2" opacity="1"/>
<path d="M670.40 217.70H682.80" fill="none" stroke="#065f06" stroke-width="1" opacity="0.7"/>
<path d="M676.60 213.81L680.90 221.98L672.30 221.98Z" fill="none" stroke="#065f06" stroke-width="1.2" stroke-linejoin="round"/>
<path d="M688.65 229.20V243.60M684.45 229.20h8.40M684.45 243.60h8.40" fill="none" stroke="#065f06" stroke-width="1.2" opacity="1"/>
<path d="M682.65 235.60H694.65" fill="none" stroke="#065f06" stroke-width="1" opacity="0.7"/>
<path d="M688.65 231.71L692.95 239.88L684.35 239.88Z" fill="none" stroke="#065f06" stroke-width="1.2" stroke-linejoin="round"/>
<path d="M700.90 218.30V231.30M696.70 218.30h8.40M696.70 231.30h8.40" fill="none" stroke="#065f06" stroke-width="1.2" opacity="1"/>
<path d="M694.90 223.70H706.90" fill="none" stroke="#065f06" stroke-width="1" opacity="0.7"/>
<path d="M700.90 219.81L705.20 227.98L696.60 227.98Z" fill="none" stroke="#065f06" stroke-width="1.2" stroke-linejoin="round"/>
<path d="M715.00 221.90V240.80M710.80 221.90h8.40M710.80 240.80h8.40" fill="none" stroke="#065f06" stroke-width="1.2" opacity="1"/>
<path d="M707.40 230.70H722.60" fill="none" stroke="#065f06" stroke-width="1" opacity="0.7"/>
<path d="M715.00 226.81L719.30 234.98L710.70 234.98Z" fill="none" stroke="#065f06" stroke-width="1.2" stroke-linejoin="round"/>
<path d="M732.85 198.80V240.30M728.65 198.80h8.40M728.65 240.30h8.40" fill="none" stroke="#065f06" stroke-width="1.2" opacity="1"/>
<path d="M723.45 215.50H742.25" fill="none" stroke="#065f06" stroke-width="1" opacity="0.7"/>
<path d="M732.85 211.61L737.15 219.78L728.55 219.78Z" fill="none" stroke="#065f06" stroke-width="1.2" stroke-linejoin="round"/>
<g fill="none" stroke="#065f06" stroke-width="1.22" stroke-linejoin="round"><path transform="translate(-0.27 0)" d="M182.6 530.4L182.9 529.2L183.3 528.1L183.6 527.0L183.9 525.8L184.3 524.7L184.6 523.5L184.9 522.4L185.3 521.3L185.6 520.1L185.9 519.0L186.3 517.8L186.6 516.7L186.9 515.5L187.3 514.4L187.6 513.3L187.9 512.1L188.3 511.0L188.6 509.8L188.9 508.7L189.3 507.5L189.6 506.4L189.9 505.2L190.2 504.1L190.6 502.9L190.9 501.8L191.2 500.6L191.5 499.5L191.9 498.3L192.2 497.2L192.5 496.0L192.9 494.9L193.2 493.7L193.5 492.6L193.8 491.5L194.2 490.3L194.5 489.2L194.8 488.0L195.2 486.9L195.5 485.7L195.8 484.6L196.1 483.4L196.5 482.3L196.8 481.1L197.1 480.0L197.5 478.8L197.8 477.7L198.1 476.5L198.5 475.4L198.8 474.2L199.1 473.1L199.5 471.9L199.8 470.8L200.1 469.6L200.5 468.5L200.8 467.3L201.1 466.2L201.5 465.1L201.8 463.9L202.1 462.8L202.5 461.6L202.8 460.5L203.2 459.3L203.5 458.2L203.9 457.0L204.2 455.9L204.5 454.8L204.9 453.6L205.2 452.5L205.6 451.3L205.9 450.2L206.3 449.1L206.6 447.9L207.0 446.8L207.3 445.6L207.7 444.5L208.0 443.4L208.4 442.2L208.8 441.1L209.1 440.0L209.5 438.8L209.8 437.7L210.2 436.6L210.6 435.4L210.9 434.3L211.3 433.2L211.7 432.0L212.0 430.9L212.4 429.8L212.8 428.6L213.2 427.5L213.5 426.4L213.9 425.3L214.3 424.1L214.7 423.0L215.0 421.9L215.4 420.8L215.8 419.6L216.2 418.5L216.6 417.4L217.0 416.3L217.3 415.1L217.7 414.0L218.1 412.9L218.5 411.8L218.9 410.6L219.3 409.5L219.7 408.4L220.1 407.3L220.4 406.1L220.8 405.0L221.2 403.9L221.6 402.8L222.0 401.6L222.4 400.5L222.8 399.4L223.2 398.3L223.6 397.2L224.0 396.0L224.4 394.9L224.8 393.8L225.2 392.7L225.6 391.5L226.0 390.4L226.4 389.3L226.8 388.2L227.2 387.0L227.6 385.9L228.0 384.8L228.4 383.7L228.8 382.5L229.2 381.4L229.6 380.3L230.0 379.2L230.4 378.0L230.9 376.9L231.3 375.8L231.7 374.7L232.1 373.5L232.5 372.4L232.9 371.3L233.3 370.1L233.7 369.0L234.1 367.9L234.5 366.7L234.9 365.6L235.4 364.5L235.8 363.3L236.2 362.2L236.6 361.1L237.0 359.9L237.4 358.8L237.8 357.7L238.2 356.5L238.7 355.4L239.1 354.3L239.5 353.2L240.0 352.1L240.5 351.0L241.0 349.9L241.5 348.8L242.0 347.8L242.5 346.8L243.1 345.7L243.7 344.7L244.3 343.7L244.9 342.7L245.5 341.8L246.2 340.8L246.8 339.8L247.5 338.9L248.2 338.0L248.9 337.1L249.7 336.1L250.4 335.2L251.2 334.4L251.9 333.5L252.7 332.6L253.5 331.8L254.4 330.9L255.2 330.1L256.1 329.3L257.0 328.5L257.8 327.6L258.7 326.8L259.7 326.1L260.6 325.3L261.6 324.5L262.5 323.7L263.5 323.0L264.5 322.3L265.5 321.5L266.5 320.8L267.5 320.1L268.6 319.4L269.6 318.7L270.7 318.1L271.7 317.4L272.8 316.8L273.9 316.2L275.0 315.6L276.1 315.1L277.2 314.5L278.3 314.0L279.4 313.5L280.6 313.0L281.7 312.5L282.8 312.1L284.0 311.7L285.1 311.3L286.3 310.9L287.4 310.6L288.6 310.3L289.7 310.0L290.9 309.7L292.0 309.5L293.2 309.3L294.3 309.1L295.5 309.0L296.6 308.9L297.8 308.8L298.9 308.8L300.1 308.8L301.2 308.8L302.4 308.8L303.5 308.9L304.6 309.1L305.7 309.2L306.9 309.4L308.0 309.7L309.1 309.9L310.2 310.2L311.3 310.5L312.4 310.9L313.5 311.2L314.6 311.6L315.6 312.1L316.7 312.5L317.8 313.0L318.9 313.5L319.9 314.0L321.0 314.5L322.0 315.1L323.1 315.7L324.1 316.3L325.1 316.9L326.2 317.5L327.2 318.2L328.2 318.8L329.2 319.5L330.2 320.2L331.2 320.9L332.2 321.7L333.1 322.4L334.1 323.1L335.1 323.9L336.0 324.7L337.0 325.4L337.9 326.2L338.9 327.0L339.8 327.8L340.7 328.6L341.6 329.4L342.5 330.2L343.4 331.0L344.3 331.9L345.2 332.7L346.1 333.5L346.9 334.4L347.8 335.2L348.7 336.0L349.5 336.9L350.3 337.7L351.2 338.6L352.0 339.5L352.8 340.3L353.6 341.2L354.4 342.1L355.2 343.0L356.0 343.9L356.8 344.7L357.6 345.6L358.4 346.5L359.2 347.4L359.9 348.3L360.7 349.2L361.5 350.2L362.2 351.1L363.0 352.0L363.7 352.9L364.4 353.8L365.2 354.8L365.9 355.7L366.6 356.6L367.3 357.6L368.0 358.5L368.8 359.5L369.5 360.4L370.2 361.4L370.9 362.3L371.6 363.3L372.2 364.3L372.9 365.2L373.6 366.2L374.3 367.2L375.0 368.1L375.6 369.1L376.3 370.1L377.0 371.1L377.6 372.0L378.3 373.0L378.9 374.0L379.6 375.0L380.2 376.0L380.9 377.0L381.5 378.0L382.2 379.0L382.8 380.0L383.4 381.0L384.1 382.0L384.7 383.0L385.3 384.0L386.0 385.0L386.6 386.0L387.2 387.0L387.8 388.0L388.5 389.1L389.1 390.1L389.7 391.1L390.3 392.1L390.9 393.1L391.6 394.2L392.2 395.2L392.8 396.2L393.4 397.2L394.0 398.3L394.6 399.3L395.2 400.3L395.8 401.4L396.4 402.4L397.0 403.4L397.6 404.5L398.2 405.5L398.8 406.5L399.4 407.6L399.9 408.6L400.5 409.7L401.1 410.7L401.6 411.8L402.2 412.9L402.7 413.9L403.3 415.0L403.8 416.0L404.4 417.1L404.9 418.2L405.4 419.3L406.0 420.3L406.5 421.4L407.0 422.5L407.5 423.6L408.0 424.7L408.5 425.8L409.0 426.8L409.5 427.9L409.9 429.0L410.4 430.1L410.9 431.2L411.4 432.3L412.0 433.4L412.5 434.4L413.0 435.5L413.6 436.6L414.1 437.6L414.7 438.7L415.3 439.7L415.9 440.7L416.6 441.7L417.2 442.7L417.9 443.7L418.6 444.7L419.4 445.6L420.2 446.6L421.0 447.5L421.8 448.4L422.7 449.2L423.7 449.9L424.6 450.5L425.6 450.8L426.7 450.9L427.8 450.8L428.9 450.5L430.0 450.0L431.1 449.4L432.2 448.6L433.2 447.9L434.1 447.0L434.9 446.1L435.7 445.2L436.5 444.3L437.3 443.3L438.0 442.4L438.7 441.4L439.4 440.4L440.1 439.4L440.8 438.5L441.5 437.5L442.2 436.5L443.0 435.6L443.7 434.7L444.5 433.7L445.2 432.8L446.0 431.9L446.8 431.0L447.5 430.1L448.3 429.2L449.1 428.3L449.9 427.5L450.7 426.6L451.5 425.7L452.3 424.9L453.1 424.0L453.9 423.1L454.8 422.3L455.6 421.4L456.4 420.6L457.3 419.7L458.1 418.9L459.0 418.1L459.8 417.2L460.7 416.4L461.5 415.6L462.4 414.8L463.3 413.9L464.2 413.2L465.1 412.4L466.0 411.6L466.9 410.9L467.9 410.1L468.8 409.4L469.8 408.7L470.8 408.0L471.8 407.4L472.8 406.8L473.8 406.2L474.9 405.6L475.9 405.1L477.0 404.6L478.1 404.1L479.3 403.6L480.4 403.2L481.5 402.8L482.7 402.4L483.9 402.0L485.0 401.6L486.2 401.2L487.3 400.8L488.5 400.4L489.6 399.9L490.7 399.5L491.8 399.0L492.8 398.5L493.9 397.9L494.9 397.3L495.9 396.7L496.8 396.1L497.8 395.4L498.7 394.7L499.6 393.9L500.5 393.2L501.4 392.4L502.2 391.6L503.0 390.8L503.8 389.9L504.6 389.1L505.4 388.2L506.2 387.3L506.9 386.3L507.7 385.4L508.4 384.4L509.1 383.5L509.8 382.5L510.5 381.5L511.2 380.5L511.8 379.5L512.5 378.5L513.2 377.5L513.8 376.4L514.5 375.4L515.1 374.4L515.7 373.3L516.4 372.3L517.0 371.3L517.6 370.2L518.3 369.2L518.9 368.2L519.5 367.2L520.2 366.2L520.8 365.1L521.4 364.1L522.0 363.1L522.7 362.1L523.3 361.1L523.9 360.1L524.6 359.1L525.2 358.2L525.8 357.2L526.5 356.2L527.1 355.2L527.8 354.2L528.4 353.2L529.0 352.2L529.7 351.2L530.3 350.2L531.0 349.2L531.6 348.2L532.3 347.2L532.9 346.2L533.6 345.2L534.2 344.2L534.9 343.2L535.5 342.2L536.2 341.2L536.9 340.2L537.5 339.2L538.2 338.2L538.9 337.2L539.6 336.2L540.3 335.2L541.0 334.3L541.8 333.3L542.5 332.4L543.2 331.4L544.0 330.5L544.7 329.6L545.5 328.7L546.3 327.8L547.1 326.9L547.9 326.1L548.7 325.2L549.6 324.4L550.4 323.6L551.3 322.8L552.2 322.0L553.1 321.3L554.0 320.6L554.9 319.9L555.9 319.2L556.8 318.5L557.8 317.9L558.8 317.3L559.8 316.7L560.9 316.2L561.9 315.6L563.0 315.1L564.1 314.6L565.2 314.1L566.3 313.6L567.4 313.2L568.5 312.8L569.7 312.3L570.8 311.9L571.9 311.5L573.1 311.1L574.3 310.7L575.4 310.3L576.6 310.0L577.7 309.6L578.9 309.2L580.1 308.9L581.2 308.5L582.4 308.1L583.6 307.8L584.7 307.4L585.9 307.0L587.0 306.6L588.2 306.2L589.3 305.8L590.4 305.4L591.5 305.0L592.7 304.5L593.8 304.1L594.8 303.6L595.9 303.1L597.0 302.6L598.0 302.1L599.1 301.5L600.1 300.9L601.1 300.4L602.1 299.7L603.0 299.1L604.0 298.4L604.9 297.7L605.9 297.0L606.8 296.3L607.7 295.5L608.6 294.7L609.4 293.9L610.3 293.1L611.1 292.3L612.0 291.5L612.8 290.6L613.6 289.7L614.4 288.9L615.2 288.0L615.9 287.1L616.7 286.1L617.5 285.2L618.2 284.3L619.0 283.3L619.7 282.4L620.4 281.4L621.1 280.5L621.8 279.5L622.5 278.5L623.2 277.5L623.9 276.6L624.6 275.6L625.3 274.6L626.0 273.6L626.6 272.6L627.3 271.6L628.0 270.6L628.7 269.6L629.3 268.6L630.0 267.6L630.7 266.6L631.3 265.6L632.0 264.6L632.7 263.6L633.4 262.6L634.0 261.6L634.7 260.6L635.4 259.7L636.1 258.7L636.8 257.7L637.5 256.8L638.2 255.8L638.9 254.9L639.6 253.9L640.3 253.0L641.1 252.1L641.8 251.1L642.5 250.2L643.3 249.3L644.1 248.5L644.9 247.6L645.6 246.7L646.4 245.9L647.3 245.0L648.1 244.2L648.9 243.4L649.8 242.6L650.6 241.8L651.5 241.0L652.4 240.3L653.3 239.6L654.2 238.8L655.2 238.1L656.1 237.5L657.1 236.8L658.1 236.1L659.1 235.5L660.2 234.9L661.2 234.3L662.3 233.7L663.3 233.2L664.4 232.7L665.5 232.2L666.6 231.7L667.8 231.2L668.9 230.8L670.0 230.3L671.2 229.9L672.4 229.6L673.5 229.2L674.7 228.9L675.9 228.6L677.1 228.3L678.3 228.0L679.5 227.8L680.7 227.6L681.9 227.4L683.2 227.3L684.4 227.1L685.6 227.0L686.8 226.9L688.1 226.9L689.3 226.9L690.5 226.9L691.8 226.9L693.0 226.9L694.2 227.0L695.4 227.1L696.6 227.3L697.8 227.5L698.9 227.7L700.1 227.9L701.3 228.2L702.4 228.5L703.5 228.8L704.6 229.2L705.7 229.6L706.7 230.0L707.8 230.4L708.8 230.9L709.8 231.4L710.8 232.0L711.8 232.5L712.8 233.1L713.8 233.7L714.7 234.4L715.6 235.0L716.5 235.7L717.5 236.4L718.3 237.1L719.2 237.9L720.1 238.6L720.9 239.4L721.8 240.2L722.6 241.0L723.4 241.9L724.2 242.7L725.0 243.6L725.8 244.5L726.6 245.4L727.3 246.3L728.1 247.3L728.8 248.2L729.5 249.2L730.2 250.2L730.9 251.1L731.6 252.1L732.3 253.1L733.0 254.2L733.7 255.2L734.3 256.2L735.0 257.3L735.6 258.3L736.2 259.4L736.9 260.4L737.5 261.5L738.1 262.5L738.7 263.6L739.3 264.7L739.9 265.8L740.4 266.9L741.0 267.9L741.6 269.0L742.1 270.1L742.7 271.2"/><path transform="translate(0.27 0)" d="M182.6 530.4L182.9 529.2L183.3 528.1L183.6 527.0L183.9 525.8L184.3 524.7L184.6 523.5L184.9 522.4L185.3 521.3L185.6 520.1L185.9 519.0L186.3 517.8L186.6 516.7L186.9 515.5L187.3 514.4L187.6 513.3L187.9 512.1L188.3 511.0L188.6 509.8L188.9 508.7L189.3 507.5L189.6 506.4L189.9 505.2L190.2 504.1L190.6 502.9L190.9 501.8L191.2 500.6L191.5 499.5L191.9 498.3L192.2 497.2L192.5 496.0L192.9 494.9L193.2 493.7L193.5 492.6L193.8 491.5L194.2 490.3L194.5 489.2L194.8 488.0L195.2 486.9L195.5 485.7L195.8 484.6L196.1 483.4L196.5 482.3L196.8 481.1L197.1 480.0L197.5 478.8L197.8 477.7L198.1 476.5L198.5 475.4L198.8 474.2L199.1 473.1L199.5 471.9L199.8 470.8L200.1 469.6L200.5 468.5L200.8 467.3L201.1 466.2L201.5 465.1L201.8 463.9L202.1 462.8L202.5 461.6L202.8 460.5L203.2 459.3L203.5 458.2L203.9 457.0L204.2 455.9L204.5 454.8L204.9 453.6L205.2 452.5L205.6 451.3L205.9 450.2L206.3 449.1L206.6 447.9L207.0 446.8L207.3 445.6L207.7 444.5L208.0 443.4L208.4 442.2L208.8 441.1L209.1 440.0L209.5 438.8L209.8 437.7L210.2 436.6L210.6 435.4L210.9 434.3L211.3 433.2L211.7 432.0L212.0 430.9L212.4 429.8L212.8 428.6L213.2 427.5L213.5 426.4L213.9 425.3L214.3 424.1L214.7 423.0L215.0 421.9L215.4 420.8L215.8 419.6L216.2 418.5L216.6 417.4L217.0 416.3L217.3 415.1L217.7 414.0L218.1 412.9L218.5 411.8L218.9 410.6L219.3 409.5L219.7 408.4L220.1 407.3L220.4 406.1L220.8 405.0L221.2 403.9L221.6 402.8L222.0 401.6L222.4 400.5L222.8 399.4L223.2 398.3L223.6 397.2L224.0 396.0L224.4 394.9L224.8 393.8L225.2 392.7L225.6 391.5L226.0 390.4L226.4 389.3L226.8 388.2L227.2 387.0L227.6 385.9L228.0 384.8L228.4 383.7L228.8 382.5L229.2 381.4L229.6 380.3L230.0 379.2L230.4 378.0L230.9 376.9L231.3 375.8L231.7 374.7L232.1 373.5L232.5 372.4L232.9 371.3L233.3 370.1L233.7 369.0L234.1 367.9L234.5 366.7L234.9 365.6L235.4 364.5L235.8 363.3L236.2 362.2L236.6 361.1L237.0 359.9L237.4 358.8L237.8 357.7L238.2 356.5L238.7 355.4L239.1 354.3L239.5 353.2L240.0 352.1L240.5 351.0L241.0 349.9L241.5 348.8L242.0 347.8L242.5 346.8L243.1 345.7L243.7 344.7L244.3 343.7L244.9 342.7L245.5 341.8L246.2 340.8L246.8 339.8L247.5 338.9L248.2 338.0L248.9 337.1L249.7 336.1L250.4 335.2L251.2 334.4L251.9 333.5L252.7 332.6L253.5 331.8L254.4 330.9L255.2 330.1L256.1 329.3L257.0 328.5L257.8 327.6L258.7 326.8L259.7 326.1L260.6 325.3L261.6 324.5L262.5 323.7L263.5 323.0L264.5 322.3L265.5 321.5L266.5 320.8L267.5 320.1L268.6 319.4L269.6 318.7L270.7 318.1L271.7 317.4L272.8 316.8L273.9 316.2L275.0 315.6L276.1 315.1L277.2 314.5L278.3 314.0L279.4 313.5L280.6 313.0L281.7 312.5L282.8 312.1L284.0 311.7L285.1 311.3L286.3 310.9L287.4 310.6L288.6 310.3L289.7 310.0L290.9 309.7L292.0 309.5L293.2 309.3L294.3 309.1L295.5 309.0L296.6 308.9L297.8 308.8L298.9 308.8L300.1 308.8L301.2 308.8L302.4 308.8L303.5 308.9L304.6 309.1L305.7 309.2L306.9 309.4L308.0 309.7L309.1 309.9L310.2 310.2L311.3 310.5L312.4 310.9L313.5 311.2L314.6 311.6L315.6 312.1L316.7 312.5L317.8 313.0L318.9 313.5L319.9 314.0L321.0 314.5L322.0 315.1L323.1 315.7L324.1 316.3L325.1 316.9L326.2 317.5L327.2 318.2L328.2 318.8L329.2 319.5L330.2 320.2L331.2 320.9L332.2 321.7L333.1 322.4L334.1 323.1L335.1 323.9L336.0 324.7L337.0 325.4L337.9 326.2L338.9 327.0L339.8 327.8L340.7 328.6L341.6 329.4L342.5 330.2L343.4 331.0L344.3 331.9L345.2 332.7L346.1 333.5L346.9 334.4L347.8 335.2L348.7 336.0L349.5 336.9L350.3 337.7L351.2 338.6L352.0 339.5L352.8 340.3L353.6 341.2L354.4 342.1L355.2 343.0L356.0 343.9L356.8 344.7L357.6 345.6L358.4 346.5L359.2 347.4L359.9 348.3L360.7 349.2L361.5 350.2L362.2 351.1L363.0 352.0L363.7 352.9L364.4 353.8L365.2 354.8L365.9 355.7L366.6 356.6L367.3 357.6L368.0 358.5L368.8 359.5L369.5 360.4L370.2 361.4L370.9 362.3L371.6 363.3L372.2 364.3L372.9 365.2L373.6 366.2L374.3 367.2L375.0 368.1L375.6 369.1L376.3 370.1L377.0 371.1L377.6 372.0L378.3 373.0L378.9 374.0L379.6 375.0L380.2 376.0L380.9 377.0L381.5 378.0L382.2 379.0L382.8 380.0L383.4 381.0L384.1 382.0L384.7 383.0L385.3 384.0L386.0 385.0L386.6 386.0L387.2 387.0L387.8 388.0L388.5 389.1L389.1 390.1L389.7 391.1L390.3 392.1L390.9 393.1L391.6 394.2L392.2 395.2L392.8 396.2L393.4 397.2L394.0 398.3L394.6 399.3L395.2 400.3L395.8 401.4L396.4 402.4L397.0 403.4L397.6 404.5L398.2 405.5L398.8 406.5L399.4 407.6L399.9 408.6L400.5 409.7L401.1 410.7L401.6 411.8L402.2 412.9L402.7 413.9L403.3 415.0L403.8 416.0L404.4 417.1L404.9 418.2L405.4 419.3L406.0 420.3L406.5 421.4L407.0 422.5L407.5 423.6L408.0 424.7L408.5 425.8L409.0 426.8L409.5 427.9L409.9 429.0L410.4 430.1L410.9 431.2L411.4 432.3L412.0 433.4L412.5 434.4L413.0 435.5L413.6 436.6L414.1 437.6L414.7 438.7L415.3 439.7L415.9 440.7L416.6 441.7L417.2 442.7L417.9 443.7L418.6 444.7L419.4 445.6L420.2 446.6L421.0 447.5L421.8 448.4L422.7 449.2L423.7 449.9L424.6 450.5L425.6 450.8L426.7 450.9L427.8 450.8L428.9 450.5L430.0 450.0L431.1 449.4L432.2 448.6L433.2 447.9L434.1 447.0L434.9 446.1L435.7 445.2L436.5 444.3L437.3 443.3L438.0 442.4L438.7 441.4L439.4 440.4L440.1 439.4L440.8 438.5L441.5 437.5L442.2 436.5L443.0 435.6L443.7 434.7L444.5 433.7L445.2 432.8L446.0 431.9L446.8 431.0L447.5 430.1L448.3 429.2L449.1 428.3L449.9 427.5L450.7 426.6L451.5 425.7L452.3 424.9L453.1 424.0L453.9 423.1L454.8 422.3L455.6 421.4L456.4 420.6L457.3 419.7L458.1 418.9L459.0 418.1L459.8 417.2L460.7 416.4L461.5 415.6L462.4 414.8L463.3 413.9L464.2 413.2L465.1 412.4L466.0 411.6L466.9 410.9L467.9 410.1L468.8 409.4L469.8 408.7L470.8 408.0L471.8 407.4L472.8 406.8L473.8 406.2L474.9 405.6L475.9 405.1L477.0 404.6L478.1 404.1L479.3 403.6L480.4 403.2L481.5 402.8L482.7 402.4L483.9 402.0L485.0 401.6L486.2 401.2L487.3 400.8L488.5 400.4L489.6 399.9L490.7 399.5L491.8 399.0L492.8 398.5L493.9 397.9L494.9 397.3L495.9 396.7L496.8 396.1L497.8 395.4L498.7 394.7L499.6 393.9L500.5 393.2L501.4 392.4L502.2 391.6L503.0 390.8L503.8 389.9L504.6 389.1L505.4 388.2L506.2 387.3L506.9 386.3L507.7 385.4L508.4 384.4L509.1 383.5L509.8 382.5L510.5 381.5L511.2 380.5L511.8 379.5L512.5 378.5L513.2 377.5L513.8 376.4L514.5 375.4L515.1 374.4L515.7 373.3L516.4 372.3L517.0 371.3L517.6 370.2L518.3 369.2L518.9 368.2L519.5 367.2L520.2 366.2L520.8 365.1L521.4 364.1L522.0 363.1L522.7 362.1L523.3 361.1L523.9 360.1L524.6 359.1L525.2 358.2L525.8 357.2L526.5 356.2L527.1 355.2L527.8 354.2L528.4 353.2L529.0 352.2L529.7 351.2L530.3 350.2L531.0 349.2L531.6 348.2L532.3 347.2L532.9 346.2L533.6 345.2L534.2 344.2L534.9 343.2L535.5 342.2L536.2 341.2L536.9 340.2L537.5 339.2L538.2 338.2L538.9 337.2L539.6 336.2L540.3 335.2L541.0 334.3L541.8 333.3L542.5 332.4L543.2 331.4L544.0 330.5L544.7 329.6L545.5 328.7L546.3 327.8L547.1 326.9L547.9 326.1L548.7 325.2L549.6 324.4L550.4 323.6L551.3 322.8L552.2 322.0L553.1 321.3L554.0 320.6L554.9 319.9L555.9 319.2L556.8 318.5L557.8 317.9L558.8 317.3L559.8 316.7L560.9 316.2L561.9 315.6L563.0 315.1L564.1 314.6L565.2 314.1L566.3 313.6L567.4 313.2L568.5 312.8L569.7 312.3L570.8 311.9L571.9 311.5L573.1 311.1L574.3 310.7L575.4 310.3L576.6 310.0L577.7 309.6L578.9 309.2L580.1 308.9L581.2 308.5L582.4 308.1L583.6 307.8L584.7 307.4L585.9 307.0L587.0 306.6L588.2 306.2L589.3 305.8L590.4 305.4L591.5 305.0L592.7 304.5L593.8 304.1L594.8 303.6L595.9 303.1L597.0 302.6L598.0 302.1L599.1 301.5L600.1 300.9L601.1 300.4L602.1 299.7L603.0 299.1L604.0 298.4L604.9 297.7L605.9 297.0L606.8 296.3L607.7 295.5L608.6 294.7L609.4 293.9L610.3 293.1L611.1 292.3L612.0 291.5L612.8 290.6L613.6 289.7L614.4 288.9L615.2 288.0L615.9 287.1L616.7 286.1L617.5 285.2L618.2 284.3L619.0 283.3L619.7 282.4L620.4 281.4L621.1 280.5L621.8 279.5L622.5 278.5L623.2 277.5L623.9 276.6L624.6 275.6L625.3 274.6L626.0 273.6L626.6 272.6L627.3 271.6L628.0 270.6L628.7 269.6L629.3 268.6L630.0 267.6L630.7 266.6L631.3 265.6L632.0 264.6L632.7 263.6L633.4 262.6L634.0 261.6L634.7 260.6L635.4 259.7L636.1 258.7L636.8 257.7L637.5 256.8L638.2 255.8L638.9 254.9L639.6 253.9L640.3 253.0L641.1 252.1L641.8 251.1L642.5 250.2L643.3 249.3L644.1 248.5L644.9 247.6L645.6 246.7L646.4 245.9L647.3 245.0L648.1 244.2L648.9 243.4L649.8 242.6L650.6 241.8L651.5 241.0L652.4 240.3L653.3 239.6L654.2 238.8L655.2 238.1L656.1 237.5L657.1 236.8L658.1 236.1L659.1 235.5L660.2 234.9L661.2 234.3L662.3 233.7L663.3 233.2L664.4 232.7L665.5 232.2L666.6 231.7L667.8 231.2L668.9 230.8L670.0 230.3L671.2 229.9L672.4 229.6L673.5 229.2L674.7 228.9L675.9 228.6L677.1 228.3L678.3 228.0L679.5 227.8L680.7 227.6L681.9 227.4L683.2 227.3L684.4 227.1L685.6 227.0L686.8 226.9L688.1 226.9L689.3 226.9L690.5 226.9L691.8 226.9L693.0 226.9L694.2 227.0L695.4 227.1L696.6 227.3L697.8 227.5L698.9 227.7L700.1 227.9L701.3 228.2L702.4 228.5L703.5 228.8L704.6 229.2L705.7 229.6L706.7 230.0L707.8 230.4L708.8 230.9L709.8 231.4L710.8 232.0L711.8 232.5L712.8 233.1L713.8 233.7L714.7 234.4L715.6 235.0L716.5 235.7L717.5 236.4L718.3 237.1L719.2 237.9L720.1 238.6L720.9 239.4L721.8 240.2L722.6 241.0L723.4 241.9L724.2 242.7L725.0 243.6L725.8 244.5L726.6 245.4L727.3 246.3L728.1 247.3L728.8 248.2L729.5 249.2L730.2 250.2L730.9 251.1L731.6 252.1L732.3 253.1L733.0 254.2L733.7 255.2L734.3 256.2L735.0 257.3L735.6 258.3L736.2 259.4L736.9 260.4L737.5 261.5L738.1 262.5L738.7 263.6L739.3 264.7L739.9 265.8L740.4 266.9L741.0 267.9L741.6 269.0L742.1 270.1L742.7 271.2"/></g>
<circle cx="170.90" cy="571.80" r="3.50" fill="#ff0000"/>
<circle cx="170.90" cy="575.60" r="3.50" fill="#ff0000"/>
<circle cx="179.10" cy="534.40" r="3.50" fill="#ff0000"/>
<circle cx="179.10" cy="538.20" r="3.50" fill="#ff0000"/>
<circle cx="189.10" cy="494.20" r="3.50" fill="#ff0000"/>
<circle cx="189.10" cy="497.00" r="3.50" fill="#ff0000"/>
<path d="M237.80 330.60V334.20M233.60 330.60h8.40M233.60 334.20h8.40" fill="none" stroke="#ff0000" stroke-width="1.2" opacity="1"/>
<circle cx="237.80" cy="332.40" r="3.60" fill="#ff0000"/>
<circle cx="366.20" cy="326.10" r="3.50" fill="#ff0000"/>
<circle cx="371.10" cy="325.50" r="3.50" fill="#ff0000"/>
<circle cx="371.40" cy="329.60" r="3.50" fill="#ff0000"/>
<circle cx="371.80" cy="333.50" r="3.50" fill="#ff0000"/>
<circle cx="371.60" cy="337.20" r="3.50" fill="#ff0000"/>
<circle cx="374.10" cy="341.00" r="3.50" fill="#ff0000"/>
<circle cx="378.10" cy="345.90" r="3.50" fill="#ff0000"/>
<circle cx="382.10" cy="353.50" r="3.50" fill="#ff0000"/>
<circle cx="386.80" cy="367.00" r="3.50" fill="#ff0000"/>
<circle cx="390.10" cy="368.10" r="3.50" fill="#ff0000"/>
<circle cx="391.50" cy="375.70" r="3.50" fill="#ff0000"/>
<path d="M498.00 338.04V347.61" stroke="#ff0000" stroke-width="0.9" opacity="0.8"/>
<path d="M501.80 336.02V345.89" stroke="#ff0000" stroke-width="0.9" opacity="0.8"/>
<path d="M505.60 336.92V347.00" stroke="#ff0000" stroke-width="0.9" opacity="0.8"/>
<path d="M503.43 340.53V350.21" stroke="#ff0000" stroke-width="0.9" opacity="0.8"/>
<path d="M499.63 341.64V351.21" stroke="#ff0000" stroke-width="0.9" opacity="0.8"/>
<path d="M506.91 341.60V350.80" stroke="#ff0000" stroke-width="0.9" opacity="0.8"/>
<path d="M496.37 340.63V351.14" stroke="#ff0000" stroke-width="0.9" opacity="0.8"/>
<path d="M492.57 346.97V356.38" stroke="#ff0000" stroke-width="0.9" opacity="0.8"/>
<path d="M495.83 343.32V354.21" stroke="#ff0000" stroke-width="0.9" opacity="0.8"/>
<path d="M490.40 349.14V359.31" stroke="#ff0000" stroke-width="0.9" opacity="0.8"/>
<path d="M494.74 347.57V357.80" stroke="#ff0000" stroke-width="0.9" opacity="0.8"/>
<path d="M497.79 345.00V355.38" stroke="#ff0000" stroke-width="0.9" opacity="0.8"/>
<path d="M500.39 344.55V353.87" stroke="#ff0000" stroke-width="0.9" opacity="0.8"/>
<path d="M483.34 352.17V362.52" stroke="#ff0000" stroke-width="0.9" opacity="0.8"/>
<path d="M486.06 351.24V361.16" stroke="#ff0000" stroke-width="0.9" opacity="0.8"/>
<path d="M484.97 356.12V366.33" stroke="#ff0000" stroke-width="0.9" opacity="0.8"/>
<path d="M488.01 353.84V363.57" stroke="#ff0000" stroke-width="0.9" opacity="0.8"/>
<path d="M481.72 357.03V366.35" stroke="#ff0000" stroke-width="0.9" opacity="0.8"/>
<path d="M488.45 357.16V367.49" stroke="#ff0000" stroke-width="0.9" opacity="0.8"/>
<path d="M474.12 360.85V370.93" stroke="#ff0000" stroke-width="0.9" opacity="0.8"/>
<path d="M477.37 358.73V368.64" stroke="#ff0000" stroke-width="0.9" opacity="0.8"/>
<path d="M480.09 360.49V371.29" stroke="#ff0000" stroke-width="0.9" opacity="0.8"/>
<path d="M476.29 363.76V373.74" stroke="#ff0000" stroke-width="0.9" opacity="0.8"/>
<path d="M471.94 362.99V373.67" stroke="#ff0000" stroke-width="0.9" opacity="0.8"/>
<path d="M481.72 361.66V371.88" stroke="#ff0000" stroke-width="0.9" opacity="0.8"/>
<path d="M484.97 360.05V370.37" stroke="#ff0000" stroke-width="0.9" opacity="0.8"/>
<path d="M469.77 370.50V380.91" stroke="#ff0000" stroke-width="0.9" opacity="0.8"/>
<path d="M473.03 368.65V378.42" stroke="#ff0000" stroke-width="0.9" opacity="0.8"/>
<path d="M468.14 373.67V383.52" stroke="#ff0000" stroke-width="0.9" opacity="0.8"/>
<path d="M475.20 370.09V380.69" stroke="#ff0000" stroke-width="0.9" opacity="0.8"/>
<path d="M471.40 373.43V383.85" stroke="#ff0000" stroke-width="0.9" opacity="0.8"/>
<path d="M477.92 367.13V377.68" stroke="#ff0000" stroke-width="0.9" opacity="0.8"/>
<path d="M466.73 371.39V381.64" stroke="#ff0000" stroke-width="0.9" opacity="0.8"/>
<path d="M479.00 368.91V380.05" stroke="#ff0000" stroke-width="0.9" opacity="0.8"/>
<path d="M491.49 356.32V366.68" stroke="#ff0000" stroke-width="0.9" opacity="0.8"/>
<path d="M498.55 349.76V359.67" stroke="#ff0000" stroke-width="0.9" opacity="0.8"/>
<circle cx="498.00" cy="343.03" r="3.50" fill="#ff0000"/>
<circle cx="501.80" cy="341.40" r="3.50" fill="#ff0000"/>
<circle cx="505.60" cy="342.16" r="3.50" fill="#ff0000"/>
<circle cx="503.43" cy="345.20" r="3.50" fill="#ff0000"/>
<circle cx="499.63" cy="346.29" r="3.50" fill="#ff0000"/>
<circle cx="506.91" cy="346.29" r="3.50" fill="#ff0000"/>
<circle cx="496.37" cy="345.74" r="3.50" fill="#ff0000"/>
<circle cx="492.57" cy="351.72" r="3.50" fill="#ff0000"/>
<circle cx="495.83" cy="348.68" r="3.50" fill="#ff0000"/>
<circle cx="490.40" cy="354.43" r="3.50" fill="#ff0000"/>
<circle cx="494.74" cy="353.34" r="3.50" fill="#ff0000"/>
<circle cx="497.79" cy="350.63" r="3.50" fill="#ff0000"/>
<circle cx="500.39" cy="349.33" r="3.50" fill="#ff0000"/>
<circle cx="483.34" cy="357.14" r="3.50" fill="#ff0000"/>
<circle cx="486.06" cy="356.06" r="3.50" fill="#ff0000"/>
<circle cx="484.97" cy="361.49" r="3.50" fill="#ff0000"/>
<circle cx="488.01" cy="359.10" r="3.50" fill="#ff0000"/>
<circle cx="481.72" cy="361.70" r="3.50" fill="#ff0000"/>
<circle cx="488.45" cy="362.57" r="3.50" fill="#ff0000"/>
<circle cx="474.12" cy="365.83" r="3.50" fill="#ff0000"/>
<circle cx="477.37" cy="363.88" r="3.50" fill="#ff0000"/>
<circle cx="480.09" cy="366.05" r="3.50" fill="#ff0000"/>
<circle cx="476.29" cy="368.65" r="3.50" fill="#ff0000"/>
<circle cx="471.94" cy="368.22" r="3.50" fill="#ff0000"/>
<circle cx="481.72" cy="367.13" r="3.50" fill="#ff0000"/>
<circle cx="484.97" cy="365.83" r="3.50" fill="#ff0000"/>
<circle cx="469.77" cy="375.60" r="3.50" fill="#ff0000"/>
<circle cx="473.03" cy="373.43" r="3.50" fill="#ff0000"/>
<circle cx="468.14" cy="378.32" r="3.50" fill="#ff0000"/>
<circle cx="475.20" cy="375.60" r="3.50" fill="#ff0000"/>
<circle cx="471.40" cy="379.08" r="3.50" fill="#ff0000"/>
<circle cx="477.92" cy="372.56" r="3.50" fill="#ff0000"/>
<circle cx="466.73" cy="376.69" r="3.50" fill="#ff0000"/>
<circle cx="479.00" cy="374.52" r="3.50" fill="#ff0000"/>
<circle cx="491.49" cy="361.49" r="3.50" fill="#ff0000"/>
<circle cx="498.55" cy="354.43" r="3.50" fill="#ff0000"/>
<circle cx="477.50" cy="380.80" r="3.30" fill="#ff0000"/>
<circle cx="482.60" cy="381.00" r="3.30" fill="#ff0000"/>
<circle cx="471.20" cy="382.40" r="3.30" fill="#ff0000"/>
<path d="M508.30 347.90V362.90" stroke="#ff0000" stroke-width="0.9" opacity="0.6"/>
<circle cx="508.30" cy="353.90" r="2.60" fill="#ff0000"/>
<path d="M513.70 338.70V353.70" stroke="#ff0000" stroke-width="0.9" opacity="0.6"/>
<circle cx="513.70" cy="344.70" r="2.60" fill="#ff0000"/>
<path d="M518.30 344.60V359.60" stroke="#ff0000" stroke-width="0.9" opacity="0.6"/>
<circle cx="518.30" cy="350.60" r="2.60" fill="#ff0000"/>
<path d="M676.60 116.70V133.25M672.40 116.70h8.40M672.40 133.25h8.40" fill="none" stroke="#ff0000" stroke-width="1.2" opacity="1"/>
<path d="M670.30 123.90H682.90" fill="none" stroke="#ff0000" stroke-width="1" opacity="0.7"/>
<circle cx="676.60" cy="123.90" r="4.20" fill="#ff0000"/>
<path d="M688.65 121.50V130.40M684.45 121.50h8.40M684.45 130.40h8.40" fill="none" stroke="#ff0000" stroke-width="1.2" opacity="1"/>
<path d="M682.45 125.50H694.85" fill="none" stroke="#ff0000" stroke-width="1" opacity="0.7"/>
<circle cx="688.65" cy="125.50" r="4.20" fill="#ff0000"/>
<path d="M700.90 117.90V130.00M696.70 117.90h8.40M696.70 130.00h8.40" fill="none" stroke="#ff0000" stroke-width="1.2" opacity="1"/>
<path d="M694.60 123.40H707.20" fill="none" stroke="#ff0000" stroke-width="1" opacity="0.7"/>
<circle cx="700.90" cy="123.40" r="4.20" fill="#ff0000"/>
<path d="M715.00 125.80V145.40M710.80 125.80h8.40M710.80 145.40h8.40" fill="none" stroke="#ff0000" stroke-width="1.2" opacity="1"/>
<path d="M707.30 134.80H722.70" fill="none" stroke="#ff0000" stroke-width="1" opacity="0.7"/>
<circle cx="715.00" cy="134.80" r="4.20" fill="#ff0000"/>
<path d="M732.85 144.40V242.70M728.65 144.40h8.40M728.65 242.70h8.40" fill="none" stroke="#ff0000" stroke-width="1.2" opacity="1"/>
<path d="M723.45 171.60H742.25" fill="none" stroke="#ff0000" stroke-width="1" opacity="0.7"/>
<circle cx="732.85" cy="171.60" r="4.20" fill="#ff0000"/>
<g fill="none" stroke="#ff0000" stroke-width="1.22" stroke-linejoin="round"><path transform="translate(-0.27 0)" d="M182.6 516.8L183.0 515.5L183.4 514.3L183.8 513.0L184.2 511.7L184.5 510.4L184.9 509.1L185.3 507.8L185.7 506.5L186.1 505.2L186.4 503.9L186.8 502.6L187.2 501.4L187.6 500.1L188.0 498.8L188.3 497.5L188.7 496.2L189.1 494.9L189.5 493.6L189.8 492.3L190.2 491.1L190.6 489.8L191.0 488.5L191.4 487.2L191.7 485.9L192.1 484.6L192.5 483.3L192.9 482.0L193.2 480.8L193.6 479.5L194.0 478.2L194.4 476.9L194.8 475.6L195.1 474.3L195.5 473.0L195.9 471.8L196.3 470.5L196.7 469.2L197.0 467.9L197.4 466.6L197.8 465.3L198.2 464.0L198.5 462.8L198.9 461.5L199.3 460.2L199.7 458.9L200.1 457.6L200.4 456.3L200.8 455.0L201.2 453.8L201.6 452.5L202.0 451.2L202.3 449.9L202.7 448.6L203.1 447.3L203.5 446.1L203.9 444.8L204.3 443.5L204.6 442.2L205.0 440.9L205.4 439.6L205.8 438.4L206.2 437.1L206.6 435.8L207.0 434.5L207.3 433.2L207.7 431.9L208.1 430.7L208.5 429.4L208.9 428.1L209.3 426.8L209.7 425.5L210.1 424.3L210.4 423.0L210.8 421.7L211.2 420.4L211.6 419.1L212.0 417.8L212.4 416.6L212.8 415.3L213.2 414.0L213.6 412.7L214.0 411.4L214.4 410.2L214.8 408.9L215.2 407.6L215.6 406.3L216.0 405.0L216.4 403.8L216.8 402.5L217.2 401.2L217.6 399.9L218.0 398.7L218.4 397.4L218.8 396.1L219.2 394.8L219.6 393.5L220.0 392.3L220.4 391.0L220.8 389.7L221.2 388.4L221.7 387.2L222.1 385.9L222.5 384.6L222.9 383.3L223.3 382.0L223.7 380.8L224.1 379.5L224.6 378.2L225.0 376.9L225.4 375.7L225.8 374.4L226.2 373.1L226.7 371.8L227.1 370.6L227.5 369.3L227.9 368.0L228.4 366.7L228.8 365.5L229.2 364.2L229.6 362.9L230.1 361.6L230.5 360.4L230.9 359.1L231.4 357.8L231.8 356.5L232.2 355.3L232.7 354.0L233.1 352.7L233.6 351.5L234.0 350.2L234.5 348.9L234.9 347.7L235.4 346.4L235.8 345.1L236.3 343.9L236.8 342.6L237.3 341.3L237.7 340.1L238.2 338.8L238.7 337.6L239.2 336.3L239.7 335.0L240.2 333.8L240.7 332.5L241.3 331.2L241.8 329.9L242.3 328.5L242.9 327.2L243.4 325.9L244.0 324.5L244.5 323.2L245.1 321.8L245.7 320.5L246.3 319.2L246.9 317.9L247.5 316.6L248.1 315.3L248.7 314.1L249.4 312.9L250.0 311.7L250.7 310.6L251.3 309.4L252.0 308.3L252.7 307.2L253.4 306.1L254.1 305.0L254.8 304.0L255.6 302.9L256.3 301.9L257.1 300.9L257.9 299.8L258.7 298.8L259.5 297.9L260.3 296.9L261.1 295.9L262.0 295.0L262.8 294.1L263.7 293.2L264.6 292.3L265.5 291.4L266.5 290.6L267.4 289.7L268.4 288.9L269.4 288.1L270.4 287.3L271.4 286.5L272.4 285.8L273.5 285.1L274.6 284.4L275.7 283.7L276.8 283.0L278.0 282.4L279.2 281.7L280.3 281.1L281.5 280.6L282.8 280.0L284.0 279.5L285.3 279.0L286.5 278.5L287.8 278.1L289.1 277.6L290.4 277.2L291.7 276.9L293.0 276.5L294.4 276.2L295.7 276.0L297.0 275.7L298.4 275.5L299.7 275.3L301.1 275.2L302.4 275.0L303.8 274.9L305.1 274.9L306.4 274.9L307.8 274.9L309.1 274.9L310.4 275.0L311.8 275.1L313.1 275.2L314.4 275.4L315.7 275.6L317.0 275.9L318.2 276.2L319.5 276.5L320.7 276.9L322.0 277.3L323.2 277.7L324.4 278.2L325.5 278.7L326.7 279.2L327.8 279.8L328.9 280.4L330.0 281.0L331.1 281.7L332.2 282.4L333.2 283.2L334.2 283.9L335.2 284.7L336.2 285.5L337.2 286.4L338.2 287.3L339.1 288.2L340.1 289.1L341.0 290.0L341.9 291.0L342.9 292.0L343.8 293.0L344.7 294.0L345.6 295.1L346.5 296.2L347.4 297.3L348.3 298.5L349.1 299.6L350.0 300.8L350.9 302.0L351.8 303.2L352.7 304.5L353.6 305.7L354.4 307.0L355.3 308.3L356.1 309.5L357.0 310.8L357.8 312.1L358.6 313.3L359.5 314.6L360.3 315.8L361.1 317.0L361.8 318.2L362.6 319.4L363.4 320.5L364.1 321.7L364.8 322.8L365.6 323.9L366.3 325.0L367.0 326.1L367.7 327.2L368.4 328.3L369.1 329.4L369.7 330.4L370.4 331.5L371.1 332.6L371.7 333.6L372.4 334.7L373.0 335.7L373.7 336.8L374.3 337.8L375.0 338.8L375.6 339.9L376.2 340.9L376.9 342.0L377.5 343.0L378.1 344.1L378.8 345.2L379.4 346.2L380.0 347.3L380.6 348.4L381.3 349.5L381.9 350.6L382.5 351.7L383.2 352.8L383.8 354.0L384.5 355.1L385.1 356.3L385.7 357.4L386.4 358.6L387.0 359.8L387.6 361.0L388.3 362.2L388.9 363.5L389.5 364.7L390.2 366.0L390.8 367.3L391.4 368.6L392.1 369.9L392.7 371.2L393.3 372.5L393.9 373.7L394.5 375.0L395.2 376.3L395.8 377.5L396.4 378.7L397.0 379.9L397.6 381.1L398.2 382.3L398.8 383.5L399.4 384.7L400.0 385.9L400.6 387.1L401.2 388.3L401.8 389.5L402.3 390.7L402.9 391.9L403.5 393.1L404.1 394.4L404.6 395.6L405.2 396.8L405.7 398.0L406.3 399.2L406.8 400.5L407.3 401.7L407.9 402.9L408.4 404.1L409.0 405.4L409.5 406.6L410.1 407.8L410.6 409.0L411.2 410.2L411.8 411.4L412.5 412.6L413.1 413.8L413.8 415.0L414.5 416.1L415.2 417.2L416.0 418.4L416.8 419.5L417.6 420.6L418.5 421.6L419.4 422.7L420.4 423.7L421.4 424.7L422.4 425.5L423.5 426.2L424.7 426.7L425.9 426.9L427.2 426.8L428.5 426.4L429.7 425.9L431.0 425.2L432.1 424.4L433.1 423.5L434.0 422.5L434.9 421.5L435.7 420.5L436.5 419.4L437.2 418.2L438.0 417.1L438.7 416.0L439.4 414.8L440.1 413.7L440.9 412.5L441.6 411.4L442.3 410.2L443.0 409.1L443.7 407.9L444.5 406.8L445.2 405.6L445.9 404.5L446.7 403.3L447.4 402.2L448.2 401.1L448.9 400.0L449.7 398.9L450.5 397.8L451.3 396.7L452.1 395.6L452.9 394.5L453.7 393.5L454.5 392.4L455.4 391.4L456.3 390.4L457.1 389.4L458.0 388.4L458.9 387.4L459.8 386.5L460.8 385.5L461.7 384.6L462.6 383.7L463.6 382.7L464.6 381.8L465.6 380.9L466.5 380.1L467.5 379.2L468.5 378.3L469.6 377.4L470.6 376.6L471.6 375.7L472.6 374.9L473.7 374.0L474.7 373.2L475.8 372.4L476.8 371.6L477.9 370.7L479.0 369.9L480.0 369.1L481.1 368.3L482.2 367.5L483.3 366.7L484.3 365.9L485.4 365.1L486.5 364.3L487.6 363.5L488.7 362.7L489.8 361.9L490.8 361.1L491.9 360.3L493.0 359.5L494.1 358.7L495.1 357.8L496.2 357.0L497.3 356.2L498.4 355.4L499.4 354.6L500.5 353.7L501.5 352.9L502.6 352.0L503.6 351.2L504.7 350.3L505.7 349.5L506.7 348.6L507.7 347.7L508.7 346.8L509.7 345.9L510.7 345.0L511.7 344.1L512.7 343.2L513.6 342.2L514.6 341.3L515.5 340.3L516.5 339.3L517.4 338.4L518.3 337.4L519.2 336.4L520.1 335.4L521.0 334.4L521.9 333.4L522.8 332.4L523.7 331.3L524.6 330.3L525.4 329.3L526.3 328.3L527.2 327.2L528.1 326.2L528.9 325.2L529.8 324.2L530.7 323.2L531.5 322.1L532.4 321.1L533.3 320.1L534.2 319.1L535.0 318.1L535.9 317.1L536.8 316.1L537.7 315.2L538.6 314.2L539.5 313.2L540.4 312.3L541.3 311.3L542.3 310.4L543.2 309.5L544.1 308.6L545.1 307.7L546.0 306.8L547.0 306.0L548.0 305.1L549.0 304.3L550.0 303.5L551.0 302.7L552.0 301.9L553.1 301.1L554.1 300.3L555.2 299.6L556.3 298.9L557.4 298.2L558.5 297.5L559.7 296.8L560.8 296.2L562.0 295.6L563.2 295.0L564.4 294.4L565.6 293.8L566.9 293.3L568.2 292.8L569.4 292.3L570.7 291.8L572.1 291.3L573.4 290.9L574.7 290.4L576.0 290.0L577.4 289.5L578.7 289.1L580.0 288.6L581.4 288.1L582.7 287.7L584.0 287.2L585.3 286.7L586.5 286.2L587.8 285.6L589.0 285.1L590.2 284.5L591.4 283.9L592.6 283.3L593.7 282.6L594.8 281.9L595.8 281.1L596.9 280.4L597.9 279.6L598.9 278.8L599.8 277.9L600.8 277.0L601.7 276.1L602.6 275.2L603.4 274.2L604.3 273.2L605.1 272.2L605.9 271.2L606.6 270.2L607.4 269.1L608.1 268.0L608.8 266.9L609.5 265.8L610.2 264.6L610.8 263.5L611.5 262.3L612.1 261.1L612.7 259.9L613.3 258.7L613.9 257.4L614.4 256.2L615.0 254.9L615.5 253.7L616.0 252.4L616.6 251.1L617.1 249.8L617.5 248.5L618.0 247.2L618.5 245.9L619.0 244.6L619.4 243.3L619.9 241.9L620.3 240.6L620.8 239.3L621.2 238.0L621.7 236.6L622.1 235.3L622.5 234.0L622.9 232.7L623.4 231.3L623.8 230.0L624.2 228.7L624.6 227.4L625.0 226.1L625.5 224.8L625.9 223.5L626.3 222.3L626.7 221.0L627.2 219.7L627.6 218.4L628.0 217.2L628.5 215.9L628.9 214.7L629.3 213.4L629.7 212.2L630.2 210.9L630.6 209.7L631.0 208.5L631.5 207.2L631.9 206.0L632.3 204.8L632.8 203.5L633.2 202.3L633.6 201.1L634.1 199.9L634.5 198.6L635.0 197.4L635.4 196.2L635.8 195.0L636.3 193.7L636.7 192.5L637.2 191.3L637.6 190.1L638.1 188.8L638.5 187.6L639.0 186.4L639.4 185.1L639.9 183.9L640.3 182.7L640.8 181.4L641.2 180.2L641.7 178.9L642.1 177.7L642.6 176.4L643.0 175.2L643.5 173.9L644.0 172.7L644.4 171.4L644.9 170.1L645.4 168.8L645.8 167.6L646.3 166.3L646.8 165.0L647.3 163.7L647.8 162.5L648.3 161.2L648.8 159.9L649.3 158.6L649.9 157.4L650.4 156.1L651.0 154.9L651.5 153.6L652.1 152.4L652.7 151.2L653.4 150.0L654.0 148.8L654.7 147.6L655.3 146.4L656.0 145.2L656.8 144.1L657.5 143.0L658.3 141.8L659.1 140.7L659.9 139.7L660.7 138.6L661.6 137.6L662.5 136.6L663.4 135.6L664.3 134.7L665.3 133.7L666.2 132.9L667.3 132.0L668.3 131.2L669.3 130.4L670.4 129.7L671.5 129.0L672.7 128.3L673.8 127.7L675.0 127.2L676.2 126.7L677.5 126.2L678.7 125.8L680.0 125.4L681.3 125.1L682.7 124.8L684.0 124.5L685.3 124.3L686.7 124.1L688.1 124.0L689.4 123.8L690.8 123.7L692.2 123.6L693.6 123.5L694.9 123.5L696.3 123.5L697.6 123.6L699.0 123.7L700.3 123.9L701.6 124.1L702.9 124.3L704.2 124.7L705.4 125.1L706.7 125.6L707.8 126.1L709.0 126.7L710.2 127.4L711.3 128.1L712.4 128.9L713.4 129.7L714.5 130.6L715.5 131.5L716.5 132.4L717.5 133.4L718.4 134.4L719.4 135.4L720.3 136.4L721.2 137.4L722.0 138.4L722.9 139.5L723.7 140.5L724.5 141.6L725.3 142.7L726.1 143.8L726.8 144.9L727.6 146.0L728.3 147.1L729.0 148.2L729.7 149.4L730.3 150.5L731.0 151.7L731.6 152.8L732.3 154.0L732.9 155.2L733.5 156.4L734.1 157.5L734.6 158.7L735.2 159.9L735.7 161.2L736.3 162.4L736.8 163.6L737.3 164.8L737.8 166.1L738.3 167.3L738.8 168.5L739.3 169.8L739.8 171.0L740.2 172.3L740.7 173.6L741.1 174.8L741.6 176.1L742.0 177.4L742.4 178.6L742.9 179.9L743.3 181.2L743.7 182.5L744.1 183.8L744.5 185.0L744.9 186.3L745.3 187.6L745.7 188.9L746.1 190.2L746.5 191.5L746.9 192.8L747.3 194.1L747.7 195.4L748.0 196.6L748.4 197.9L748.8 199.2L749.2 200.5L749.6 201.8L750.0 203.1L750.4 204.4L750.7 205.7L751.1 207.0L751.5 208.3L751.9 209.6L752.3 210.8L752.6 212.1L753.0 213.4L753.4 214.7L753.8 216.0L754.1 217.3L754.5 218.6L754.9 219.9L755.2 221.2L755.6 222.5L756.0 223.8L756.3 225.1L756.7 226.4L757.0 227.7L757.4 228.9L757.8 230.2L758.1 231.5L758.5 232.8L758.8 234.1L759.2 235.4L759.5 236.7L759.9 238.0L760.2 239.3L760.6 240.6L760.9 241.9L761.3 243.2L761.6 244.5L762.0 245.8L762.3 247.1L762.6 248.4L763.0 249.7L763.3 251.0L763.6 252.3L764.0 253.6L764.3 254.9L764.6 256.2L765.0 257.5L765.3 258.8L765.6 260.1L765.9 261.4L766.3 262.7L766.6 264.0L766.9 265.3L767.2 266.6L767.5 267.9L767.9 269.2L768.2 270.5L768.5 271.8L768.8 273.1L769.1 274.4L769.4 275.7L769.7 277.0L770.0 278.3L770.3 279.6L770.6 280.9L770.9 282.2L771.2 283.5L771.5 284.8L771.8 286.1L772.1 287.5L772.4 288.8L772.7 290.1L772.9 291.4L773.2 292.7L773.5 294.0L773.8 295.3L774.1 296.6L774.3 297.9L774.6 299.2L774.9 300.5L775.2 301.9L775.4 303.2L775.7 304.5L776.0 305.8L776.2 307.1L776.5 308.4L776.8 309.7L777.0 311.0L777.3 312.4L777.5 313.7L777.8 315.0L778.0 316.3L778.3 317.6L778.5 318.9L778.8 320.2L779.0 321.6L779.2 322.9L779.5 324.2L779.7 325.5L780.0 326.8L780.2 328.2L780.4 329.5L780.6 330.8L780.9 332.1L781.1 333.4L781.3 334.8L781.5 336.1L781.8 337.4L782.0 338.7L782.2 340.1L782.4 341.4L782.6 342.7L782.8 344.0L783.0 345.4L783.2 346.7L783.4 348.0L783.6 349.3L783.8 350.7L784.0 352.0L784.2 353.3L784.4 354.6L784.6 356.0L784.8 357.3L785.0 358.6L785.1 360.0L785.3 361.3L785.5 362.6L785.7 364.0L785.8 365.3L786.0 366.6L786.2 368.0L786.3 369.3L786.5 370.6L786.7 372.0L786.8 373.3L787.0 374.7L787.1 376.0L787.3 377.3L787.4 378.7L787.6 380.0L787.7 381.3L787.9 382.7L788.0 384.0L788.1 385.4L788.3 386.7L788.4 388.1"/><path transform="translate(0.27 0)" d="M182.6 516.8L183.0 515.5L183.4 514.3L183.8 513.0L184.2 511.7L184.5 510.4L184.9 509.1L185.3 507.8L185.7 506.5L186.1 505.2L186.4 503.9L186.8 502.6L187.2 501.4L187.6 500.1L188.0 498.8L188.3 497.5L188.7 496.2L189.1 494.9L189.5 493.6L189.8 492.3L190.2 491.1L190.6 489.8L191.0 488.5L191.4 487.2L191.7 485.9L192.1 484.6L192.5 483.3L192.9 482.0L193.2 480.8L193.6 479.5L194.0 478.2L194.4 476.9L194.8 475.6L195.1 474.3L195.5 473.0L195.9 471.8L196.3 470.5L196.7 469.2L197.0 467.9L197.4 466.6L197.8 465.3L198.2 464.0L198.5 462.8L198.9 461.5L199.3 460.2L199.7 458.9L200.1 457.6L200.4 456.3L200.8 455.0L201.2 453.8L201.6 452.5L202.0 451.2L202.3 449.9L202.7 448.6L203.1 447.3L203.5 446.1L203.9 444.8L204.3 443.5L204.6 442.2L205.0 440.9L205.4 439.6L205.8 438.4L206.2 437.1L206.6 435.8L207.0 434.5L207.3 433.2L207.7 431.9L208.1 430.7L208.5 429.4L208.9 428.1L209.3 426.8L209.7 425.5L210.1 424.3L210.4 423.0L210.8 421.7L211.2 420.4L211.6 419.1L212.0 417.8L212.4 416.6L212.8 415.3L213.2 414.0L213.6 412.7L214.0 411.4L214.4 410.2L214.8 408.9L215.2 407.6L215.6 406.3L216.0 405.0L216.4 403.8L216.8 402.5L217.2 401.2L217.6 399.9L218.0 398.7L218.4 397.4L218.8 396.1L219.2 394.8L219.6 393.5L220.0 392.3L220.4 391.0L220.8 389.7L221.2 388.4L221.7 387.2L222.1 385.9L222.5 384.6L222.9 383.3L223.3 382.0L223.7 380.8L224.1 379.5L224.6 378.2L225.0 376.9L225.4 375.7L225.8 374.4L226.2 373.1L226.7 371.8L227.1 370.6L227.5 369.3L227.9 368.0L228.4 366.7L228.8 365.5L229.2 364.2L229.6 362.9L230.1 361.6L230.5 360.4L230.9 359.1L231.4 357.8L231.8 356.5L232.2 355.3L232.7 354.0L233.1 352.7L233.6 351.5L234.0 350.2L234.5 348.9L234.9 347.7L235.4 346.4L235.8 345.1L236.3 343.9L236.8 342.6L237.3 341.3L237.7 340.1L238.2 338.8L238.7 337.6L239.2 336.3L239.7 335.0L240.2 333.8L240.7 332.5L241.3 331.2L241.8 329.9L242.3 328.5L242.9 327.2L243.4 325.9L244.0 324.5L244.5 323.2L245.1 321.8L245.7 320.5L246.3 319.2L246.9 317.9L247.5 316.6L248.1 315.3L248.7 314.1L249.4 312.9L250.0 311.7L250.7 310.6L251.3 309.4L252.0 308.3L252.7 307.2L253.4 306.1L254.1 305.0L254.8 304.0L255.6 302.9L256.3 301.9L257.1 300.9L257.9 299.8L258.7 298.8L259.5 297.9L260.3 296.9L261.1 295.9L262.0 295.0L262.8 294.1L263.7 293.2L264.6 292.3L265.5 291.4L266.5 290.6L267.4 289.7L268.4 288.9L269.4 288.1L270.4 287.3L271.4 286.5L272.4 285.8L273.5 285.1L274.6 284.4L275.7 283.7L276.8 283.0L278.0 282.4L279.2 281.7L280.3 281.1L281.5 280.6L282.8 280.0L284.0 279.5L285.3 279.0L286.5 278.5L287.8 278.1L289.1 277.6L290.4 277.2L291.7 276.9L293.0 276.5L294.4 276.2L295.7 276.0L297.0 275.7L298.4 275.5L299.7 275.3L301.1 275.2L302.4 275.0L303.8 274.9L305.1 274.9L306.4 274.9L307.8 274.9L309.1 274.9L310.4 275.0L311.8 275.1L313.1 275.2L314.4 275.4L315.7 275.6L317.0 275.9L318.2 276.2L319.5 276.5L320.7 276.9L322.0 277.3L323.2 277.7L324.4 278.2L325.5 278.7L326.7 279.2L327.8 279.8L328.9 280.4L330.0 281.0L331.1 281.7L332.2 282.4L333.2 283.2L334.2 283.9L335.2 284.7L336.2 285.5L337.2 286.4L338.2 287.3L339.1 288.2L340.1 289.1L341.0 290.0L341.9 291.0L342.9 292.0L343.8 293.0L344.7 294.0L345.6 295.1L346.5 296.2L347.4 297.3L348.3 298.5L349.1 299.6L350.0 300.8L350.9 302.0L351.8 303.2L352.7 304.5L353.6 305.7L354.4 307.0L355.3 308.3L356.1 309.5L357.0 310.8L357.8 312.1L358.6 313.3L359.5 314.6L360.3 315.8L361.1 317.0L361.8 318.2L362.6 319.4L363.4 320.5L364.1 321.7L364.8 322.8L365.6 323.9L366.3 325.0L367.0 326.1L367.7 327.2L368.4 328.3L369.1 329.4L369.7 330.4L370.4 331.5L371.1 332.6L371.7 333.6L372.4 334.7L373.0 335.7L373.7 336.8L374.3 337.8L375.0 338.8L375.6 339.9L376.2 340.9L376.9 342.0L377.5 343.0L378.1 344.1L378.8 345.2L379.4 346.2L380.0 347.3L380.6 348.4L381.3 349.5L381.9 350.6L382.5 351.7L383.2 352.8L383.8 354.0L384.5 355.1L385.1 356.3L385.7 357.4L386.4 358.6L387.0 359.8L387.6 361.0L388.3 362.2L388.9 363.5L389.5 364.7L390.2 366.0L390.8 367.3L391.4 368.6L392.1 369.9L392.7 371.2L393.3 372.5L393.9 373.7L394.5 375.0L395.2 376.3L395.8 377.5L396.4 378.7L397.0 379.9L397.6 381.1L398.2 382.3L398.8 383.5L399.4 384.7L400.0 385.9L400.6 387.1L401.2 388.3L401.8 389.5L402.3 390.7L402.9 391.9L403.5 393.1L404.1 394.4L404.6 395.6L405.2 396.8L405.7 398.0L406.3 399.2L406.8 400.5L407.3 401.7L407.9 402.9L408.4 404.1L409.0 405.4L409.5 406.6L410.1 407.8L410.6 409.0L411.2 410.2L411.8 411.4L412.5 412.6L413.1 413.8L413.8 415.0L414.5 416.1L415.2 417.2L416.0 418.4L416.8 419.5L417.6 420.6L418.5 421.6L419.4 422.7L420.4 423.7L421.4 424.7L422.4 425.5L423.5 426.2L424.7 426.7L425.9 426.9L427.2 426.8L428.5 426.4L429.7 425.9L431.0 425.2L432.1 424.4L433.1 423.5L434.0 422.5L434.9 421.5L435.7 420.5L436.5 419.4L437.2 418.2L438.0 417.1L438.7 416.0L439.4 414.8L440.1 413.7L440.9 412.5L441.6 411.4L442.3 410.2L443.0 409.1L443.7 407.9L444.5 406.8L445.2 405.6L445.9 404.5L446.7 403.3L447.4 402.2L448.2 401.1L448.9 400.0L449.7 398.9L450.5 397.8L451.3 396.7L452.1 395.6L452.9 394.5L453.7 393.5L454.5 392.4L455.4 391.4L456.3 390.4L457.1 389.4L458.0 388.4L458.9 387.4L459.8 386.5L460.8 385.5L461.7 384.6L462.6 383.7L463.6 382.7L464.6 381.8L465.6 380.9L466.5 380.1L467.5 379.2L468.5 378.3L469.6 377.4L470.6 376.6L471.6 375.7L472.6 374.9L473.7 374.0L474.7 373.2L475.8 372.4L476.8 371.6L477.9 370.7L479.0 369.9L480.0 369.1L481.1 368.3L482.2 367.5L483.3 366.7L484.3 365.9L485.4 365.1L486.5 364.3L487.6 363.5L488.7 362.7L489.8 361.9L490.8 361.1L491.9 360.3L493.0 359.5L494.1 358.7L495.1 357.8L496.2 357.0L497.3 356.2L498.4 355.4L499.4 354.6L500.5 353.7L501.5 352.9L502.6 352.0L503.6 351.2L504.7 350.3L505.7 349.5L506.7 348.6L507.7 347.7L508.7 346.8L509.7 345.9L510.7 345.0L511.7 344.1L512.7 343.2L513.6 342.2L514.6 341.3L515.5 340.3L516.5 339.3L517.4 338.4L518.3 337.4L519.2 336.4L520.1 335.4L521.0 334.4L521.9 333.4L522.8 332.4L523.7 331.3L524.6 330.3L525.4 329.3L526.3 328.3L527.2 327.2L528.1 326.2L528.9 325.2L529.8 324.2L530.7 323.2L531.5 322.1L532.4 321.1L533.3 320.1L534.2 319.1L535.0 318.1L535.9 317.1L536.8 316.1L537.7 315.2L538.6 314.2L539.5 313.2L540.4 312.3L541.3 311.3L542.3 310.4L543.2 309.5L544.1 308.6L545.1 307.7L546.0 306.8L547.0 306.0L548.0 305.1L549.0 304.3L550.0 303.5L551.0 302.7L552.0 301.9L553.1 301.1L554.1 300.3L555.2 299.6L556.3 298.9L557.4 298.2L558.5 297.5L559.7 296.8L560.8 296.2L562.0 295.6L563.2 295.0L564.4 294.4L565.6 293.8L566.9 293.3L568.2 292.8L569.4 292.3L570.7 291.8L572.1 291.3L573.4 290.9L574.7 290.4L576.0 290.0L577.4 289.5L578.7 289.1L580.0 288.6L581.4 288.1L582.7 287.7L584.0 287.2L585.3 286.7L586.5 286.2L587.8 285.6L589.0 285.1L590.2 284.5L591.4 283.9L592.6 283.3L593.7 282.6L594.8 281.9L595.8 281.1L596.9 280.4L597.9 279.6L598.9 278.8L599.8 277.9L600.8 277.0L601.7 276.1L602.6 275.2L603.4 274.2L604.3 273.2L605.1 272.2L605.9 271.2L606.6 270.2L607.4 269.1L608.1 268.0L608.8 266.9L609.5 265.8L610.2 264.6L610.8 263.5L611.5 262.3L612.1 261.1L612.7 259.9L613.3 258.7L613.9 257.4L614.4 256.2L615.0 254.9L615.5 253.7L616.0 252.4L616.6 251.1L617.1 249.8L617.5 248.5L618.0 247.2L618.5 245.9L619.0 244.6L619.4 243.3L619.9 241.9L620.3 240.6L620.8 239.3L621.2 238.0L621.7 236.6L622.1 235.3L622.5 234.0L622.9 232.7L623.4 231.3L623.8 230.0L624.2 228.7L624.6 227.4L625.0 226.1L625.5 224.8L625.9 223.5L626.3 222.3L626.7 221.0L627.2 219.7L627.6 218.4L628.0 217.2L628.5 215.9L628.9 214.7L629.3 213.4L629.7 212.2L630.2 210.9L630.6 209.7L631.0 208.5L631.5 207.2L631.9 206.0L632.3 204.8L632.8 203.5L633.2 202.3L633.6 201.1L634.1 199.9L634.5 198.6L635.0 197.4L635.4 196.2L635.8 195.0L636.3 193.7L636.7 192.5L637.2 191.3L637.6 190.1L638.1 188.8L638.5 187.6L639.0 186.4L639.4 185.1L639.9 183.9L640.3 182.7L640.8 181.4L641.2 180.2L641.7 178.9L642.1 177.7L642.6 176.4L643.0 175.2L643.5 173.9L644.0 172.7L644.4 171.4L644.9 170.1L645.4 168.8L645.8 167.6L646.3 166.3L646.8 165.0L647.3 163.7L647.8 162.5L648.3 161.2L648.8 159.9L649.3 158.6L649.9 157.4L650.4 156.1L651.0 154.9L651.5 153.6L652.1 152.4L652.7 151.2L653.4 150.0L654.0 148.8L654.7 147.6L655.3 146.4L656.0 145.2L656.8 144.1L657.5 143.0L658.3 141.8L659.1 140.7L659.9 139.7L660.7 138.6L661.6 137.6L662.5 136.6L663.4 135.6L664.3 134.7L665.3 133.7L666.2 132.9L667.3 132.0L668.3 131.2L669.3 130.4L670.4 129.7L671.5 129.0L672.7 128.3L673.8 127.7L675.0 127.2L676.2 126.7L677.5 126.2L678.7 125.8L680.0 125.4L681.3 125.1L682.7 124.8L684.0 124.5L685.3 124.3L686.7 124.1L688.1 124.0L689.4 123.8L690.8 123.7L692.2 123.6L693.6 123.5L694.9 123.5L696.3 123.5L697.6 123.6L699.0 123.7L700.3 123.9L701.6 124.1L702.9 124.3L704.2 124.7L705.4 125.1L706.7 125.6L707.8 126.1L709.0 126.7L710.2 127.4L711.3 128.1L712.4 128.9L713.4 129.7L714.5 130.6L715.5 131.5L716.5 132.4L717.5 133.4L718.4 134.4L719.4 135.4L720.3 136.4L721.2 137.4L722.0 138.4L722.9 139.5L723.7 140.5L724.5 141.6L725.3 142.7L726.1 143.8L726.8 144.9L727.6 146.0L728.3 147.1L729.0 148.2L729.7 149.4L730.3 150.5L731.0 151.7L731.6 152.8L732.3 154.0L732.9 155.2L733.5 156.4L734.1 157.5L734.6 158.7L735.2 159.9L735.7 161.2L736.3 162.4L736.8 163.6L737.3 164.8L737.8 166.1L738.3 167.3L738.8 168.5L739.3 169.8L739.8 171.0L740.2 172.3L740.7 173.6L741.1 174.8L741.6 176.1L742.0 177.4L742.4 178.6L742.9 179.9L743.3 181.2L743.7 182.5L744.1 183.8L744.5 185.0L744.9 186.3L745.3 187.6L745.7 188.9L746.1 190.2L746.5 191.5L746.9 192.8L747.3 194.1L747.7 195.4L748.0 196.6L748.4 197.9L748.8 199.2L749.2 200.5L749.6 201.8L750.0 203.1L750.4 204.4L750.7 205.7L751.1 207.0L751.5 208.3L751.9 209.6L752.3 210.8L752.6 212.1L753.0 213.4L753.4 214.7L753.8 216.0L754.1 217.3L754.5 218.6L754.9 219.9L755.2 221.2L755.6 222.5L756.0 223.8L756.3 225.1L756.7 226.4L757.0 227.7L757.4 228.9L757.8 230.2L758.1 231.5L758.5 232.8L758.8 234.1L759.2 235.4L759.5 236.7L759.9 238.0L760.2 239.3L760.6 240.6L760.9 241.9L761.3 243.2L761.6 244.5L762.0 245.8L762.3 247.1L762.6 248.4L763.0 249.7L763.3 251.0L763.6 252.3L764.0 253.6L764.3 254.9L764.6 256.2L765.0 257.5L765.3 258.8L765.6 260.1L765.9 261.4L766.3 262.7L766.6 264.0L766.9 265.3L767.2 266.6L767.5 267.9L767.9 269.2L768.2 270.5L768.5 271.8L768.8 273.1L769.1 274.4L769.4 275.7L769.7 277.0L770.0 278.3L770.3 279.6L770.6 280.9L770.9 282.2L771.2 283.5L771.5 284.8L771.8 286.1L772.1 287.5L772.4 288.8L772.7 290.1L772.9 291.4L773.2 292.7L773.5 294.0L773.8 295.3L774.1 296.6L774.3 297.9L774.6 299.2L774.9 300.5L775.2 301.9L775.4 303.2L775.7 304.5L776.0 305.8L776.2 307.1L776.5 308.4L776.8 309.7L777.0 311.0L777.3 312.4L777.5 313.7L777.8 315.0L778.0 316.3L778.3 317.6L778.5 318.9L778.8 320.2L779.0 321.6L779.2 322.9L779.5 324.2L779.7 325.5L780.0 326.8L780.2 328.2L780.4 329.5L780.6 330.8L780.9 332.1L781.1 333.4L781.3 334.8L781.5 336.1L781.8 337.4L782.0 338.7L782.2 340.1L782.4 341.4L782.6 342.7L782.8 344.0L783.0 345.4L783.2 346.7L783.4 348.0L783.6 349.3L783.8 350.7L784.0 352.0L784.2 353.3L784.4 354.6L784.6 356.0L784.8 357.3L785.0 358.6L785.1 360.0L785.3 361.3L785.5 362.6L785.7 364.0L785.8 365.3L786.0 366.6L786.2 368.0L786.3 369.3L786.5 370.6L786.7 372.0L786.8 373.3L787.0 374.7L787.1 376.0L787.3 377.3L787.4 378.7L787.6 380.0L787.7 381.3L787.9 382.7L788.0 384.0L788.1 385.4L788.3 386.7L788.4 388.1"/></g>
<path d="M185.4 494.9h7.2" stroke="#0000ff" stroke-width="1.2"/>
<rect x="185.40" y="491.30" width="7.20" height="7.20" fill="none" stroke="#0000ff" stroke-width="1.4"/>
<path d="M167.60 571.80h6.60" stroke="#0000ff" stroke-width="1.1"/>
<rect x="167.60" y="568.50" width="6.60" height="6.60" fill="none" stroke="#0000ff" stroke-width="1.4"/>
<path d="M167.60 575.50h6.60" stroke="#0000ff" stroke-width="1.1"/>
<rect x="167.60" y="572.20" width="6.60" height="6.60" fill="none" stroke="#0000ff" stroke-width="1.4"/>
<path d="M175.60 534.30h6.60" stroke="#0000ff" stroke-width="1.1"/>
<rect x="175.60" y="531.00" width="6.60" height="6.60" fill="none" stroke="#0000ff" stroke-width="1.4"/>
<path d="M175.60 537.90h6.60" stroke="#0000ff" stroke-width="1.1"/>
<rect x="175.60" y="534.60" width="6.60" height="6.60" fill="none" stroke="#0000ff" stroke-width="1.4"/>
<rect x="234.50" y="336.60" width="6.40" height="6.40" fill="none" stroke="#0000ff" stroke-width="1.4"/>
<path d="M237.7 336.6V343" stroke="#0000ff" stroke-width="1.1"/>
<rect x="365.10" y="360.90" width="5.80" height="5.80" fill="none" stroke="#0000ff" stroke-width="1.1"/>
<rect x="368.20" y="372.30" width="5.80" height="5.80" fill="none" stroke="#0000ff" stroke-width="1.1"/>
<rect x="370.50" y="374.40" width="5.80" height="5.80" fill="none" stroke="#0000ff" stroke-width="1.1"/>
<rect x="374.70" y="378.80" width="5.80" height="5.80" fill="none" stroke="#0000ff" stroke-width="1.1"/>
<rect x="379.00" y="385.30" width="5.80" height="5.80" fill="none" stroke="#0000ff" stroke-width="1.1"/>
<rect x="383.90" y="395.60" width="5.80" height="5.80" fill="none" stroke="#0000ff" stroke-width="1.1"/>
<rect x="387.70" y="392.90" width="5.80" height="5.80" fill="none" stroke="#0000ff" stroke-width="1.1"/>
<rect x="388.80" y="400.00" width="5.80" height="5.80" fill="none" stroke="#0000ff" stroke-width="1.1"/>
<path d="M491.57 391.31V394.91M489.57 391.31h4.00M489.57 394.91h4.00" fill="none" stroke="#0000ff" stroke-width="0.8" opacity="0.9"/>
<path d="M488.97 393.11H494.17" fill="none" stroke="#0000ff" stroke-width="0.8" opacity="0.9"/>
<rect x="488.77" y="390.31" width="5.60" height="5.60" fill="none" stroke="#0000ff" stroke-width="1.05"/>
<rect x="479.61" y="392.33" width="5.60" height="5.60" fill="none" stroke="#0000ff" stroke-width="1.05"/>
<path d="M487.26 388.28V391.88M485.26 388.28h4.00M485.26 391.88h4.00" fill="none" stroke="#0000ff" stroke-width="0.8" opacity="0.9"/>
<path d="M484.66 390.08H489.86" fill="none" stroke="#0000ff" stroke-width="0.8" opacity="0.9"/>
<rect x="484.46" y="387.28" width="5.60" height="5.60" fill="none" stroke="#0000ff" stroke-width="1.05"/>
<rect x="481.06" y="383.06" width="5.60" height="5.60" fill="none" stroke="#0000ff" stroke-width="1.05"/>
<path d="M477.25 385.75V389.35M475.25 385.75h4.00M475.25 389.35h4.00" fill="none" stroke="#0000ff" stroke-width="0.8" opacity="0.9"/>
<path d="M474.65 387.55H479.85" fill="none" stroke="#0000ff" stroke-width="0.8" opacity="0.9"/>
<rect x="474.45" y="384.75" width="5.60" height="5.60" fill="none" stroke="#0000ff" stroke-width="1.05"/>
<rect x="486.95" y="383.48" width="5.60" height="5.60" fill="none" stroke="#0000ff" stroke-width="1.05"/>
<path d="M479.75 385.30V388.90M477.75 385.30h4.00M477.75 388.90h4.00" fill="none" stroke="#0000ff" stroke-width="0.8" opacity="0.9"/>
<path d="M477.15 387.10H482.35" fill="none" stroke="#0000ff" stroke-width="0.8" opacity="0.9"/>
<rect x="476.95" y="384.30" width="5.60" height="5.60" fill="none" stroke="#0000ff" stroke-width="1.05"/>
<rect x="488.15" y="387.34" width="5.60" height="5.60" fill="none" stroke="#0000ff" stroke-width="1.05"/>
<path d="M483.62 384.73V388.33M481.62 384.73h4.00M481.62 388.33h4.00" fill="none" stroke="#0000ff" stroke-width="0.8" opacity="0.9"/>
<path d="M481.02 386.53H486.22" fill="none" stroke="#0000ff" stroke-width="0.8" opacity="0.9"/>
<rect x="480.82" y="383.73" width="5.60" height="5.60" fill="none" stroke="#0000ff" stroke-width="1.05"/>
<rect x="487.63" y="389.17" width="5.60" height="5.60" fill="none" stroke="#0000ff" stroke-width="1.05"/>
<path d="M489.01 393.30V396.90M487.01 393.30h4.00M487.01 396.90h4.00" fill="none" stroke="#0000ff" stroke-width="0.8" opacity="0.9"/>
<path d="M486.41 395.10H491.61" fill="none" stroke="#0000ff" stroke-width="0.8" opacity="0.9"/>
<rect x="486.21" y="392.30" width="5.60" height="5.60" fill="none" stroke="#0000ff" stroke-width="1.05"/>
<rect x="480.10" y="386.03" width="5.60" height="5.60" fill="none" stroke="#0000ff" stroke-width="1.05"/>
<path d="M491.36 387.96V391.56M489.36 387.96h4.00M489.36 391.56h4.00" fill="none" stroke="#0000ff" stroke-width="0.8" opacity="0.9"/>
<path d="M488.76 389.76H493.96" fill="none" stroke="#0000ff" stroke-width="0.8" opacity="0.9"/>
<rect x="488.56" y="386.96" width="5.60" height="5.60" fill="none" stroke="#0000ff" stroke-width="1.05"/>
<rect x="479.16" y="393.91" width="5.60" height="5.60" fill="none" stroke="#0000ff" stroke-width="1.05"/>
<path d="M479.45 385.84V389.44M477.45 385.84h4.00M477.45 389.44h4.00" fill="none" stroke="#0000ff" stroke-width="0.8" opacity="0.9"/>
<path d="M476.85 387.64H482.05" fill="none" stroke="#0000ff" stroke-width="0.8" opacity="0.9"/>
<rect x="476.65" y="384.84" width="5.60" height="5.60" fill="none" stroke="#0000ff" stroke-width="1.05"/>
<rect x="481.51" y="385.51" width="5.60" height="5.60" fill="none" stroke="#0000ff" stroke-width="1.05"/>
<path d="M480.76 390.63V394.23M478.76 390.63h4.00M478.76 394.23h4.00" fill="none" stroke="#0000ff" stroke-width="0.8" opacity="0.9"/>
<path d="M478.16 392.43H483.36" fill="none" stroke="#0000ff" stroke-width="0.8" opacity="0.9"/>
<rect x="477.96" y="389.63" width="5.60" height="5.60" fill="none" stroke="#0000ff" stroke-width="1.05"/>
<rect x="480.24" y="382.85" width="5.60" height="5.60" fill="none" stroke="#0000ff" stroke-width="1.05"/>
<path d="M485.44 388.08V391.68M483.44 388.08h4.00M483.44 391.68h4.00" fill="none" stroke="#0000ff" stroke-width="0.8" opacity="0.9"/>
<path d="M482.84 389.88H488.04" fill="none" stroke="#0000ff" stroke-width="0.8" opacity="0.9"/>
<rect x="482.64" y="387.08" width="5.60" height="5.60" fill="none" stroke="#0000ff" stroke-width="1.05"/>
<rect x="484.07" y="393.86" width="5.60" height="5.60" fill="none" stroke="#0000ff" stroke-width="1.05"/>
<path d="M486.18 389.78V393.38M484.18 389.78h4.00M484.18 393.38h4.00" fill="none" stroke="#0000ff" stroke-width="0.8" opacity="0.9"/>
<path d="M483.58 391.58H488.78" fill="none" stroke="#0000ff" stroke-width="0.8" opacity="0.9"/>
<rect x="483.38" y="388.78" width="5.60" height="5.60" fill="none" stroke="#0000ff" stroke-width="1.05"/>
<rect x="475.60" y="390.64" width="5.60" height="5.60" fill="none" stroke="#0000ff" stroke-width="1.05"/>
<path d="M487.84 394.23V397.83M485.84 394.23h4.00M485.84 397.83h4.00" fill="none" stroke="#0000ff" stroke-width="0.8" opacity="0.9"/>
<path d="M485.24 396.03H490.44" fill="none" stroke="#0000ff" stroke-width="0.8" opacity="0.9"/>
<rect x="485.04" y="393.23" width="5.60" height="5.60" fill="none" stroke="#0000ff" stroke-width="1.05"/>
<rect x="485.29" y="392.94" width="5.60" height="5.60" fill="none" stroke="#0000ff" stroke-width="1.05"/>
<path d="M482.30 388.35V391.95M480.30 388.35h4.00M480.30 391.95h4.00" fill="none" stroke="#0000ff" stroke-width="0.8" opacity="0.9"/>
<path d="M479.70 390.15H484.90" fill="none" stroke="#0000ff" stroke-width="0.8" opacity="0.9"/>
<rect x="479.50" y="387.35" width="5.60" height="5.60" fill="none" stroke="#0000ff" stroke-width="1.05"/>
<rect x="484.38" y="384.00" width="5.60" height="5.60" fill="none" stroke="#0000ff" stroke-width="1.05"/>
<path d="M476.29 384.52V388.12M474.29 384.52h4.00M474.29 388.12h4.00" fill="none" stroke="#0000ff" stroke-width="0.8" opacity="0.9"/>
<path d="M473.69 386.32H478.89" fill="none" stroke="#0000ff" stroke-width="0.8" opacity="0.9"/>
<rect x="473.49" y="383.52" width="5.60" height="5.60" fill="none" stroke="#0000ff" stroke-width="1.05"/>
<rect x="475.32" y="385.22" width="5.60" height="5.60" fill="none" stroke="#0000ff" stroke-width="1.05"/>
<path d="M475.98 387.74V391.34M473.98 387.74h4.00M473.98 391.34h4.00" fill="none" stroke="#0000ff" stroke-width="0.8" opacity="0.9"/>
<path d="M473.38 389.54H478.58" fill="none" stroke="#0000ff" stroke-width="0.8" opacity="0.9"/>
<rect x="473.18" y="386.74" width="5.60" height="5.60" fill="none" stroke="#0000ff" stroke-width="1.05"/>
<rect x="475.10" y="382.80" width="5.60" height="5.60" fill="none" stroke="#0000ff" stroke-width="1.05"/>
<path d="M470.50 383.90V387.90M468.30 383.90h4.40M468.30 387.90h4.40" fill="none" stroke="#0000ff" stroke-width="0.8" opacity="0.9"/>
<path d="M467.70 385.90H473.30" fill="none" stroke="#0000ff" stroke-width="0.8" opacity="0.9"/>
<rect x="467.60" y="383.00" width="5.80" height="5.80" fill="none" stroke="#0000ff" stroke-width="1.1"/>
<path d="M472.40 399.30V403.30M470.20 399.30h4.40M470.20 403.30h4.40" fill="none" stroke="#0000ff" stroke-width="0.8" opacity="0.9"/>
<path d="M469.60 401.30H475.20" fill="none" stroke="#0000ff" stroke-width="0.8" opacity="0.9"/>
<rect x="469.50" y="398.40" width="5.80" height="5.80" fill="none" stroke="#0000ff" stroke-width="1.1"/>
<path d="M474.60 405.10V409.10M472.40 405.10h4.40M472.40 409.10h4.40" fill="none" stroke="#0000ff" stroke-width="0.8" opacity="0.9"/>
<path d="M471.80 407.10H477.40" fill="none" stroke="#0000ff" stroke-width="0.8" opacity="0.9"/>
<rect x="471.70" y="404.20" width="5.80" height="5.80" fill="none" stroke="#0000ff" stroke-width="1.1"/>
<path d="M487.10 378.00V382.00M484.90 378.00h4.40M484.90 382.00h4.40" fill="none" stroke="#0000ff" stroke-width="0.8" opacity="0.9"/>
<path d="M484.30 380.00H489.90" fill="none" stroke="#0000ff" stroke-width="0.8" opacity="0.9"/>
<rect x="484.20" y="377.10" width="5.80" height="5.80" fill="none" stroke="#0000ff" stroke-width="1.1"/>
<path d="M498.00 367.60V371.60M495.80 367.60h4.40M495.80 371.60h4.40" fill="none" stroke="#0000ff" stroke-width="0.8" opacity="0.9"/>
<path d="M495.20 369.60H500.80" fill="none" stroke="#0000ff" stroke-width="0.8" opacity="0.9"/>
<rect x="495.10" y="366.70" width="5.80" height="5.80" fill="none" stroke="#0000ff" stroke-width="1.1"/>
<path d="M503.40 366.00V370.00M501.20 366.00h4.40M501.20 370.00h4.40" fill="none" stroke="#0000ff" stroke-width="0.8" opacity="0.9"/>
<path d="M500.60 368.00H506.20" fill="none" stroke="#0000ff" stroke-width="0.8" opacity="0.9"/>
<rect x="500.50" y="365.10" width="5.80" height="5.80" fill="none" stroke="#0000ff" stroke-width="1.1"/>
<path d="M507.80 368.70V372.70M505.60 368.70h4.40M505.60 372.70h4.40" fill="none" stroke="#0000ff" stroke-width="0.8" opacity="0.9"/>
<path d="M505.00 370.70H510.60" fill="none" stroke="#0000ff" stroke-width="0.8" opacity="0.9"/>
<rect x="504.90" y="367.80" width="5.80" height="5.80" fill="none" stroke="#0000ff" stroke-width="1.1"/>
<path d="M513.20 360.60V364.60M511.00 360.60h4.40M511.00 364.60h4.40" fill="none" stroke="#0000ff" stroke-width="0.8" opacity="0.9"/>
<path d="M510.40 362.60H516.00" fill="none" stroke="#0000ff" stroke-width="0.8" opacity="0.9"/>
<rect x="510.30" y="359.70" width="5.80" height="5.80" fill="none" stroke="#0000ff" stroke-width="1.1"/>
<path d="M516.50 367.10V371.10M514.30 367.10h4.40M514.30 371.10h4.40" fill="none" stroke="#0000ff" stroke-width="0.8" opacity="0.9"/>
<path d="M513.70 369.10H519.30" fill="none" stroke="#0000ff" stroke-width="0.8" opacity="0.9"/>
<rect x="513.60" y="366.20" width="5.80" height="5.80" fill="none" stroke="#0000ff" stroke-width="1.1"/>
<path d="M494.50 375.50V379.50M492.30 375.50h4.40M492.30 379.50h4.40" fill="none" stroke="#0000ff" stroke-width="0.8" opacity="0.9"/>
<path d="M491.70 377.50H497.30" fill="none" stroke="#0000ff" stroke-width="0.8" opacity="0.9"/>
<rect x="491.60" y="374.60" width="5.80" height="5.80" fill="none" stroke="#0000ff" stroke-width="1.1"/>
<path d="M500.50 372.80V376.80M498.30 372.80h4.40M498.30 376.80h4.40" fill="none" stroke="#0000ff" stroke-width="0.8" opacity="0.9"/>
<path d="M497.70 374.80H503.30" fill="none" stroke="#0000ff" stroke-width="0.8" opacity="0.9"/>
<rect x="497.60" y="371.90" width="5.80" height="5.80" fill="none" stroke="#0000ff" stroke-width="1.1"/>
<path d="M505.60 374.40V378.40M503.40 374.40h4.40M503.40 378.40h4.40" fill="none" stroke="#0000ff" stroke-width="0.8" opacity="0.9"/>
<path d="M502.80 376.40H508.40" fill="none" stroke="#0000ff" stroke-width="0.8" opacity="0.9"/>
<rect x="502.70" y="373.50" width="5.80" height="5.80" fill="none" stroke="#0000ff" stroke-width="1.1"/>
<path d="M509.80 365.40V369.40M507.60 365.40h4.40M507.60 369.40h4.40" fill="none" stroke="#0000ff" stroke-width="0.8" opacity="0.9"/>
<path d="M507.00 367.40H512.60" fill="none" stroke="#0000ff" stroke-width="0.8" opacity="0.9"/>
<rect x="506.90" y="364.50" width="5.80" height="5.80" fill="none" stroke="#0000ff" stroke-width="1.1"/>
<path d="M497.40 380.60V384.60M495.20 380.60h4.40M495.20 384.60h4.40" fill="none" stroke="#0000ff" stroke-width="0.8" opacity="0.9"/>
<path d="M494.60 382.60H500.20" fill="none" stroke="#0000ff" stroke-width="0.8" opacity="0.9"/>
<rect x="494.50" y="379.70" width="5.80" height="5.80" fill="none" stroke="#0000ff" stroke-width="1.1"/>
<path d="M498.20 376.20V380.20M496.00 376.20h4.40M496.00 380.20h4.40" fill="none" stroke="#0000ff" stroke-width="0.8" opacity="0.9"/>
<path d="M495.40 378.20H501.00" fill="none" stroke="#0000ff" stroke-width="0.8" opacity="0.9"/>
<rect x="495.30" y="375.30" width="5.80" height="5.80" fill="none" stroke="#0000ff" stroke-width="1.1"/>
<path d="M502.60 373.30V377.30M500.40 373.30h4.40M500.40 377.30h4.40" fill="none" stroke="#0000ff" stroke-width="0.8" opacity="0.9"/>
<path d="M499.80 375.30H505.40" fill="none" stroke="#0000ff" stroke-width="0.8" opacity="0.9"/>
<rect x="499.70" y="372.40" width="5.80" height="5.80" fill="none" stroke="#0000ff" stroke-width="1.1"/>
<path d="M506.20 370.40V374.40M504.00 370.40h4.40M504.00 374.40h4.40" fill="none" stroke="#0000ff" stroke-width="0.8" opacity="0.9"/>
<path d="M503.40 372.40H509.00" fill="none" stroke="#0000ff" stroke-width="0.8" opacity="0.9"/>
<rect x="503.30" y="369.50" width="5.80" height="5.80" fill="none" stroke="#0000ff" stroke-width="1.1"/>
<path d="M508.40 376.20V380.20M506.20 376.20h4.40M506.20 380.20h4.40" fill="none" stroke="#0000ff" stroke-width="0.8" opacity="0.9"/>
<path d="M505.60 378.20H511.20" fill="none" stroke="#0000ff" stroke-width="0.8" opacity="0.9"/>
<rect x="505.50" y="375.30" width="5.80" height="5.80" fill="none" stroke="#0000ff" stroke-width="1.1"/>
<path d="M512.80 368.90V372.90M510.60 368.90h4.40M510.60 372.90h4.40" fill="none" stroke="#0000ff" stroke-width="0.8" opacity="0.9"/>
<path d="M510.00 370.90H515.60" fill="none" stroke="#0000ff" stroke-width="0.8" opacity="0.9"/>
<rect x="509.90" y="368.00" width="5.80" height="5.80" fill="none" stroke="#0000ff" stroke-width="1.1"/>
<path d="M501.10 368.90V372.90M498.90 368.90h4.40M498.90 372.90h4.40" fill="none" stroke="#0000ff" stroke-width="0.8" opacity="0.9"/>
<path d="M498.30 370.90H503.90" fill="none" stroke="#0000ff" stroke-width="0.8" opacity="0.9"/>
<rect x="498.20" y="368.00" width="5.80" height="5.80" fill="none" stroke="#0000ff" stroke-width="1.1"/>
<path d="M496.00 382.00V386.00M493.80 382.00h4.40M493.80 386.00h4.40" fill="none" stroke="#0000ff" stroke-width="0.8" opacity="0.9"/>
<path d="M493.20 384.00H498.80" fill="none" stroke="#0000ff" stroke-width="0.8" opacity="0.9"/>
<rect x="493.10" y="381.10" width="5.80" height="5.80" fill="none" stroke="#0000ff" stroke-width="1.1"/>
<path d="M504.00 379.10V383.10M501.80 379.10h4.40M501.80 383.10h4.40" fill="none" stroke="#0000ff" stroke-width="0.8" opacity="0.9"/>
<path d="M501.20 381.10H506.80" fill="none" stroke="#0000ff" stroke-width="0.8" opacity="0.9"/>
<rect x="501.10" y="378.20" width="5.80" height="5.80" fill="none" stroke="#0000ff" stroke-width="1.1"/>
<path d="M515.70 366.00V370.00M513.50 366.00h4.40M513.50 370.00h4.40" fill="none" stroke="#0000ff" stroke-width="0.8" opacity="0.9"/>
<path d="M512.90 368.00H518.50" fill="none" stroke="#0000ff" stroke-width="0.8" opacity="0.9"/>
<rect x="512.80" y="365.10" width="5.80" height="5.80" fill="none" stroke="#0000ff" stroke-width="1.1"/>
<path d="M505.40 353.90H511.20" fill="none" stroke="#0000ff" stroke-width="0.8" opacity="0.9"/>
<path d="M508.30 351.00V356.80" stroke="#0000ff" stroke-width="0.8" opacity="0.9"/>
<rect x="505.40" y="351.00" width="5.80" height="5.80" fill="none" stroke="#0000ff" stroke-width="1"/>
<path d="M510.80 344.70H516.60" fill="none" stroke="#0000ff" stroke-width="0.8" opacity="0.9"/>
<path d="M513.70 341.80V347.60" stroke="#0000ff" stroke-width="0.8" opacity="0.9"/>
<rect x="510.80" y="341.80" width="5.80" height="5.80" fill="none" stroke="#0000ff" stroke-width="1"/>
<path d="M515.70 350.60H521.50" fill="none" stroke="#0000ff" stroke-width="0.8" opacity="0.9"/>
<path d="M518.60 347.70V353.50" stroke="#0000ff" stroke-width="0.8" opacity="0.9"/>
<rect x="515.70" y="347.70" width="5.80" height="5.80" fill="none" stroke="#0000ff" stroke-width="1"/>
<path d="M517.40 343.00H523.20" fill="none" stroke="#0000ff" stroke-width="0.8" opacity="0.9"/>
<path d="M520.30 340.10V345.90" stroke="#0000ff" stroke-width="0.8" opacity="0.9"/>
<rect x="517.40" y="340.10" width="5.80" height="5.80" fill="none" stroke="#0000ff" stroke-width="1"/>
<path d="M521.70 336.50H527.50" fill="none" stroke="#0000ff" stroke-width="0.8" opacity="0.9"/>
<path d="M524.60 333.60V339.40" stroke="#0000ff" stroke-width="0.8" opacity="0.9"/>
<rect x="521.70" y="333.60" width="5.80" height="5.80" fill="none" stroke="#0000ff" stroke-width="1"/>
<path d="M522.20 345.20H528.00" fill="none" stroke="#0000ff" stroke-width="0.8" opacity="0.9"/>
<path d="M525.10 342.30V348.10" stroke="#0000ff" stroke-width="0.8" opacity="0.9"/>
<rect x="522.20" y="342.30" width="5.80" height="5.80" fill="none" stroke="#0000ff" stroke-width="1"/>
<path d="M527.70 347.90H533.50" fill="none" stroke="#0000ff" stroke-width="0.8" opacity="0.9"/>
<path d="M530.60 345.00V350.80" stroke="#0000ff" stroke-width="0.8" opacity="0.9"/>
<rect x="527.70" y="345.00" width="5.80" height="5.80" fill="none" stroke="#0000ff" stroke-width="1"/>
<path d="M532.00 336.00H537.80" fill="none" stroke="#0000ff" stroke-width="0.8" opacity="0.9"/>
<path d="M534.90 333.10V338.90" stroke="#0000ff" stroke-width="0.8" opacity="0.9"/>
<rect x="532.00" y="333.10" width="5.80" height="5.80" fill="none" stroke="#0000ff" stroke-width="1"/>
<path d="M535.30 340.90H541.10" fill="none" stroke="#0000ff" stroke-width="0.8" opacity="0.9"/>
<path d="M538.20 338.00V343.80" stroke="#0000ff" stroke-width="0.8" opacity="0.9"/>
<rect x="535.30" y="338.00" width="5.80" height="5.80" fill="none" stroke="#0000ff" stroke-width="1"/>
<path d="M537.40 332.20H543.20" fill="none" stroke="#0000ff" stroke-width="0.8" opacity="0.9"/>
<path d="M540.30 329.30V335.10" stroke="#0000ff" stroke-width="0.8" opacity="0.9"/>
<rect x="537.40" y="329.30" width="5.80" height="5.80" fill="none" stroke="#0000ff" stroke-width="1"/>
<path d="M544.00 332.70H549.80" fill="none" stroke="#0000ff" stroke-width="0.8" opacity="0.9"/>
<path d="M546.90 329.80V335.60" stroke="#0000ff" stroke-width="0.8" opacity="0.9"/>
<rect x="544.00" y="329.80" width="5.80" height="5.80" fill="none" stroke="#0000ff" stroke-width="1"/>
<path d="M542.80 332.00H548.60" fill="none" stroke="#0000ff" stroke-width="0.8" opacity="0.9"/>
<path d="M545.70 329.10V334.90" stroke="#0000ff" stroke-width="0.8" opacity="0.9"/>
<rect x="542.80" y="329.10" width="5.80" height="5.80" fill="none" stroke="#0000ff" stroke-width="1"/>
<path d="M548.70 327.20H554.50" fill="none" stroke="#0000ff" stroke-width="0.8" opacity="0.9"/>
<path d="M551.60 324.30V330.10" stroke="#0000ff" stroke-width="0.8" opacity="0.9"/>
<rect x="548.70" y="324.30" width="5.80" height="5.80" fill="none" stroke="#0000ff" stroke-width="1"/>
<path d="M551.30 317.10H557.10" fill="none" stroke="#0000ff" stroke-width="0.8" opacity="0.9"/>
<path d="M554.20 314.20V320.00" stroke="#0000ff" stroke-width="0.8" opacity="0.9"/>
<rect x="551.30" y="314.20" width="5.80" height="5.80" fill="none" stroke="#0000ff" stroke-width="1"/>
<path d="M554.10 311.10H559.90" fill="none" stroke="#0000ff" stroke-width="0.8" opacity="0.9"/>
<path d="M557.00 308.20V314.00" stroke="#0000ff" stroke-width="0.8" opacity="0.9"/>
<rect x="554.10" y="308.20" width="5.80" height="5.80" fill="none" stroke="#0000ff" stroke-width="1"/>
<path d="M555.90 298.60H561.70" fill="none" stroke="#0000ff" stroke-width="0.8" opacity="0.9"/>
<path d="M558.80 295.70V301.50" stroke="#0000ff" stroke-width="0.8" opacity="0.9"/>
<rect x="555.90" y="295.70" width="5.80" height="5.80" fill="none" stroke="#0000ff" stroke-width="1"/>
<path d="M558.20 305.80H564.00" fill="none" stroke="#0000ff" stroke-width="0.8" opacity="0.9"/>
<path d="M561.10 302.90V308.70" stroke="#0000ff" stroke-width="0.8" opacity="0.9"/>
<rect x="558.20" y="302.90" width="5.80" height="5.80" fill="none" stroke="#0000ff" stroke-width="1"/>
<path d="M561.20 298.00H567.00" fill="none" stroke="#0000ff" stroke-width="0.8" opacity="0.9"/>
<path d="M564.10 295.10V300.90" stroke="#0000ff" stroke-width="0.8" opacity="0.9"/>
<rect x="561.20" y="295.10" width="5.80" height="5.80" fill="none" stroke="#0000ff" stroke-width="1"/>
<path d="M564.20 299.80H570.00" fill="none" stroke="#0000ff" stroke-width="0.8" opacity="0.9"/>
<path d="M567.10 296.90V302.70" stroke="#0000ff" stroke-width="0.8" opacity="0.9"/>
<rect x="564.20" y="296.90" width="5.80" height="5.80" fill="none" stroke="#0000ff" stroke-width="1"/>
<path d="M530.60 333.00V361.00" stroke="#0000ff" stroke-width="1.4" opacity="0.35"/>
<path d="M535.50 341.00V358.00" stroke="#0000ff" stroke-width="1.4" opacity="0.35"/>
<path d="M524.80 337.00V352.00" stroke="#0000ff" stroke-width="1.4" opacity="0.35"/>
<path d="M528.20 342.00V360.00" stroke="#0000ff" stroke-width="1.4" opacity="0.35"/>
<path d="M535.50 308.10V357.00" stroke="#0000ff" stroke-width="0.9"/>
<path d="M532.60 320.70H538.40" fill="none" stroke="#0000ff" stroke-width="0.8" opacity="0.9"/>
<rect x="532.60" y="317.80" width="5.80" height="5.80" fill="none" stroke="#0000ff" stroke-width="1"/>
<path d="M569.30 276.60V300.50" stroke="#0000ff" stroke-width="0.9"/>
<path d="M566.40 286.90H572.20" fill="none" stroke="#0000ff" stroke-width="0.8" opacity="0.9"/>
<rect x="566.40" y="284.00" width="5.80" height="5.80" fill="none" stroke="#0000ff" stroke-width="1"/>
<path d="M571.40 300.50V340.30" stroke="#0000ff" stroke-width="0.9"/>
<path d="M568.50 305.30H574.30" fill="none" stroke="#0000ff" stroke-width="0.8" opacity="0.9"/>
<rect x="568.50" y="302.40" width="5.80" height="5.80" fill="none" stroke="#0000ff" stroke-width="1"/>
<path d="M676.60 172.00V173.20M673.00 172.00h7.20M673.00 173.20h7.20" fill="none" stroke="#0000ff" stroke-width="1" opacity="1"/>
<path d="M670.60 172.60H682.60" fill="none" stroke="#0000ff" stroke-width="0.9" opacity="0.85"/>
<rect x="672.85" y="168.85" width="7.50" height="7.50" fill="none" stroke="#0000ff" stroke-width="1.15"/>
<path d="M688.65 184.60V189.00M685.05 184.60h7.20M685.05 189.00h7.20" fill="none" stroke="#0000ff" stroke-width="1" opacity="1"/>
<path d="M682.65 186.80H694.65" fill="none" stroke="#0000ff" stroke-width="0.9" opacity="0.85"/>
<rect x="684.90" y="183.05" width="7.50" height="7.50" fill="none" stroke="#0000ff" stroke-width="1.15"/>
<path d="M700.90 190.80V193.80M697.30 190.80h7.20M697.30 193.80h7.20" fill="none" stroke="#0000ff" stroke-width="1" opacity="1"/>
<path d="M694.90 192.30H706.90" fill="none" stroke="#0000ff" stroke-width="0.9" opacity="0.85"/>
<rect x="697.15" y="188.55" width="7.50" height="7.50" fill="none" stroke="#0000ff" stroke-width="1.15"/>
<path d="M715.00 205.60V221.20M710.80 205.60h8.40M710.80 221.20h8.40" fill="none" stroke="#0000ff" stroke-width="1" opacity="1"/>
<path d="M707.40 212.90H722.60" fill="none" stroke="#0000ff" stroke-width="0.9" opacity="0.85"/>
<rect x="711.25" y="209.15" width="7.50" height="7.50" fill="none" stroke="#0000ff" stroke-width="1.15"/>
<path d="M732.85 209.30V271.40M728.65 209.30h8.40M728.65 271.40h8.40" fill="none" stroke="#0000ff" stroke-width="1" opacity="1"/>
<path d="M723.65 230.80H742.05" fill="none" stroke="#0000ff" stroke-width="0.9" opacity="0.85"/>
<rect x="729.10" y="227.05" width="7.50" height="7.50" fill="none" stroke="#0000ff" stroke-width="1.15"/>
<g fill="none" stroke="#0000ff" stroke-width="1.22" stroke-linejoin="round"><path transform="translate(-0.27 0)" d="M182.5 519.8L182.9 518.6L183.3 517.3L183.7 516.1L184.1 514.8L184.5 513.6L184.8 512.3L185.2 511.1L185.6 509.9L186.0 508.6L186.3 507.4L186.7 506.1L187.1 504.9L187.5 503.6L187.8 502.4L188.2 501.1L188.6 499.9L189.0 498.7L189.3 497.4L189.7 496.2L190.1 494.9L190.4 493.7L190.8 492.4L191.2 491.2L191.5 489.9L191.9 488.7L192.3 487.4L192.6 486.2L193.0 485.0L193.4 483.7L193.7 482.5L194.1 481.2L194.5 480.0L194.8 478.7L195.2 477.5L195.5 476.2L195.9 475.0L196.3 473.7L196.6 472.5L197.0 471.3L197.3 470.0L197.7 468.8L198.1 467.5L198.4 466.3L198.8 465.0L199.1 463.8L199.5 462.5L199.9 461.3L200.2 460.0L200.6 458.8L200.9 457.6L201.3 456.3L201.7 455.1L202.0 453.8L202.4 452.6L202.7 451.3L203.1 450.1L203.5 448.8L203.8 447.6L204.2 446.3L204.5 445.1L204.9 443.9L205.3 442.6L205.6 441.4L206.0 440.1L206.4 438.9L206.7 437.6L207.1 436.4L207.4 435.1L207.8 433.9L208.2 432.7L208.5 431.4L208.9 430.2L209.3 428.9L209.6 427.7L210.0 426.4L210.4 425.2L210.8 424.0L211.1 422.7L211.5 421.5L211.9 420.2L212.2 419.0L212.6 417.8L213.0 416.5L213.4 415.3L213.7 414.0L214.1 412.8L214.5 411.6L214.9 410.3L215.3 409.1L215.6 407.8L216.0 406.6L216.4 405.4L216.8 404.1L217.2 402.9L217.6 401.6L217.9 400.4L218.3 399.2L218.7 397.9L219.1 396.7L219.5 395.5L219.9 394.2L220.3 393.0L220.7 391.8L221.1 390.5L221.5 389.3L221.9 388.1L222.3 386.8L222.7 385.6L223.1 384.4L223.5 383.1L223.9 381.9L224.3 380.7L224.7 379.4L225.2 378.2L225.6 377.0L226.0 375.7L226.4 374.5L226.8 373.3L227.2 372.0L227.7 370.8L228.1 369.6L228.5 368.4L229.0 367.1L229.4 365.9L229.8 364.7L230.3 363.4L230.7 362.2L231.1 361.0L231.6 359.8L232.0 358.5L232.5 357.3L232.9 356.1L233.4 354.9L233.8 353.7L234.3 352.4L234.7 351.2L235.2 350.0L235.6 348.8L236.1 347.6L236.6 346.3L237.1 345.1L237.6 343.9L238.0 342.7L238.5 341.5L239.0 340.3L239.5 339.1L240.0 337.9L240.6 336.7L241.1 335.5L241.6 334.4L242.1 333.2L242.7 332.0L243.2 330.8L243.8 329.6L244.3 328.5L244.9 327.3L245.5 326.1L246.0 325.0L246.6 323.8L247.2 322.7L247.8 321.5L248.4 320.4L249.1 319.3L249.7 318.1L250.3 317.0L251.0 315.9L251.6 314.8L252.3 313.7L253.0 312.6L253.7 311.5L254.4 310.4L255.1 309.3L255.8 308.2L256.5 307.1L257.3 306.1L258.0 305.0L258.8 304.0L259.6 302.9L260.4 301.9L261.2 300.9L262.0 299.9L262.8 299.0L263.7 298.0L264.6 297.1L265.5 296.2L266.4 295.3L267.3 294.4L268.3 293.5L269.3 292.7L270.3 291.9L271.3 291.1L272.4 290.4L273.5 289.7L274.6 289.0L275.7 288.3L276.8 287.7L278.0 287.1L279.2 286.5L280.5 286.0L281.7 285.6L283.0 285.1L284.2 284.7L285.5 284.4L286.8 284.1L288.1 283.8L289.4 283.6L290.8 283.5L292.1 283.4L293.4 283.4L294.7 283.4L296.0 283.5L297.3 283.6L298.5 283.9L299.8 284.2L301.0 284.5L302.2 284.9L303.5 285.4L304.6 286.0L305.8 286.5L307.0 287.1L308.1 287.8L309.2 288.5L310.3 289.2L311.4 289.9L312.4 290.6L313.5 291.4L314.5 292.2L315.5 293.0L316.5 293.8L317.4 294.6L318.4 295.4L319.3 296.3L320.3 297.2L321.2 298.1L322.1 299.0L323.0 299.9L323.8 300.9L324.7 301.8L325.5 302.8L326.4 303.8L327.2 304.8L328.0 305.8L328.8 306.8L329.6 307.8L330.4 308.8L331.2 309.9L331.9 310.9L332.7 312.0L333.4 313.1L334.2 314.1L334.9 315.2L335.7 316.3L336.4 317.4L337.1 318.5L337.8 319.6L338.5 320.7L339.2 321.8L339.9 322.9L340.7 324.0L341.4 325.1L342.1 326.2L342.7 327.3L343.4 328.4L344.1 329.6L344.8 330.7L345.5 331.8L346.2 332.9L346.9 334.0L347.6 335.1L348.3 336.2L349.0 337.3L349.7 338.4L350.4 339.5L351.1 340.6L351.7 341.7L352.4 342.8L353.1 344.0L353.8 345.1L354.5 346.2L355.2 347.3L355.9 348.4L356.6 349.5L357.2 350.6L357.9 351.7L358.6 352.8L359.3 353.9L360.0 355.0L360.6 356.1L361.3 357.2L362.0 358.3L362.7 359.4L363.4 360.5L364.0 361.6L364.7 362.7L365.4 363.8L366.1 364.9L366.7 366.0L367.4 367.1L368.1 368.2L368.8 369.3L369.4 370.4L370.1 371.5L370.8 372.6L371.4 373.7L372.1 374.8L372.8 375.9L373.4 377.0L374.1 378.1L374.8 379.3L375.4 380.4L376.1 381.5L376.8 382.6L377.4 383.7L378.1 384.8L378.8 385.9L379.4 387.0L380.1 388.1L380.7 389.2L381.4 390.3L382.1 391.5L382.7 392.6L383.4 393.7L384.0 394.8L384.7 395.9L385.3 397.0L386.0 398.1L386.7 399.3L387.3 400.4L388.0 401.5L388.6 402.6L389.3 403.7L389.9 404.9L390.6 406.0L391.2 407.1L391.9 408.2L392.5 409.4L393.2 410.5L393.8 411.6L394.4 412.7L395.1 413.9L395.7 415.0L396.4 416.1L397.0 417.3L397.7 418.4L398.3 419.6L399.0 420.7L399.6 421.8L400.3 422.9L400.9 424.1L401.6 425.2L402.3 426.3L403.0 427.4L403.7 428.5L404.4 429.6L405.2 430.6L405.9 431.7L406.7 432.7L407.5 433.8L408.4 434.8L409.2 435.8L410.1 436.7L411.0 437.7L411.9 438.6L412.9 439.5L413.9 440.4L415.0 441.3L416.0 442.0L417.1 442.7L418.3 443.2L419.4 443.4L420.6 443.3L421.8 442.9L423.0 442.4L424.1 441.8L425.2 441.0L426.3 440.2L427.2 439.4L428.2 438.5L429.1 437.6L430.0 436.6L430.8 435.6L431.6 434.6L432.4 433.6L433.1 432.5L433.8 431.4L434.5 430.3L435.2 429.1L435.9 428.0L436.5 426.8L437.2 425.7L437.8 424.5L438.5 423.4L439.1 422.2L439.8 421.1L440.5 420.0L441.2 418.9L441.9 417.8L442.6 416.7L443.3 415.6L444.0 414.5L444.7 413.5L445.5 412.5L446.2 411.4L447.0 410.4L447.8 409.4L448.6 408.3L449.3 407.3L450.2 406.3L451.0 405.3L451.8 404.3L452.6 403.3L453.4 402.3L454.3 401.3L455.1 400.3L456.0 399.3L456.8 398.3L457.7 397.4L458.6 396.4L459.4 395.4L460.3 394.5L461.2 393.5L462.1 392.5L463.0 391.6L463.9 390.7L464.8 389.8L465.7 388.8L466.7 388.0L467.6 387.1L468.6 386.2L469.5 385.4L470.5 384.5L471.5 383.7L472.5 383.0L473.6 382.2L474.6 381.5L475.7 380.8L476.8 380.1L477.9 379.5L479.0 378.8L480.2 378.2L481.4 377.7L482.6 377.2L483.8 376.7L485.0 376.2L486.3 375.8L487.6 375.4L488.9 375.0L490.2 374.6L491.5 374.2L492.8 373.8L494.1 373.5L495.4 373.1L496.6 372.7L497.9 372.3L499.2 371.9L500.4 371.4L501.7 371.0L502.9 370.5L504.1 370.0L505.2 369.4L506.3 368.8L507.4 368.2L508.5 367.6L509.6 366.9L510.6 366.2L511.6 365.4L512.6 364.7L513.6 363.9L514.5 363.1L515.4 362.2L516.4 361.4L517.2 360.5L518.1 359.6L519.0 358.6L519.8 357.7L520.6 356.7L521.5 355.8L522.3 354.8L523.1 353.7L523.8 352.7L524.6 351.7L525.4 350.6L526.1 349.6L526.9 348.5L527.6 347.4L528.3 346.3L529.0 345.2L529.8 344.1L530.5 343.0L531.2 341.9L531.9 340.8L532.6 339.6L533.3 338.5L534.0 337.4L534.7 336.3L535.4 335.2L536.2 334.0L536.9 332.9L537.6 331.8L538.3 330.7L539.0 329.6L539.8 328.5L540.5 327.4L541.3 326.3L542.0 325.3L542.8 324.2L543.6 323.2L544.4 322.2L545.2 321.1L546.0 320.1L546.9 319.2L547.7 318.2L548.6 317.3L549.5 316.3L550.3 315.4L551.3 314.5L552.2 313.7L553.1 312.8L554.1 312.0L555.1 311.2L556.1 310.4L557.1 309.6L558.1 308.9L559.2 308.2L560.2 307.5L561.3 306.8L562.4 306.1L563.5 305.5L564.6 304.9L565.8 304.3L566.9 303.8L568.1 303.2L569.3 302.7L570.5 302.2L571.8 301.8L573.0 301.3L574.3 300.9L575.6 300.5L576.8 300.1L578.2 299.8L579.5 299.5L580.8 299.1L582.1 298.8L583.4 298.5L584.7 298.2L586.1 297.8L587.4 297.5L588.6 297.1L589.9 296.7L591.2 296.3L592.4 295.9L593.6 295.4L594.8 294.9L596.0 294.4L597.1 293.8L598.2 293.2L599.3 292.5L600.4 291.9L601.4 291.2L602.4 290.5L603.4 289.7L604.4 289.0L605.4 288.2L606.3 287.3L607.2 286.5L608.1 285.6L609.0 284.7L609.9 283.8L610.7 282.9L611.6 281.9L612.4 280.9L613.2 279.9L614.0 278.9L614.7 277.9L615.5 276.8L616.2 275.8L616.9 274.7L617.6 273.6L618.3 272.5L619.0 271.4L619.7 270.3L620.3 269.1L621.0 268.0L621.6 266.8L622.2 265.6L622.8 264.5L623.4 263.3L624.0 262.1L624.6 260.9L625.2 259.7L625.7 258.5L626.3 257.3L626.8 256.1L627.4 254.8L627.9 253.6L628.4 252.4L629.0 251.2L629.5 250.0L630.0 248.8L630.5 247.6L631.0 246.4L631.5 245.2L632.0 244.0L632.5 242.8L633.0 241.6L633.4 240.4L633.9 239.2L634.4 238.0L634.9 236.8L635.4 235.6L635.8 234.4L636.3 233.2L636.8 232.0L637.3 230.8L637.8 229.6L638.2 228.4L638.7 227.3L639.2 226.1L639.7 224.9L640.2 223.7L640.7 222.5L641.2 221.4L641.7 220.2L642.2 219.0L642.7 217.8L643.2 216.7L643.7 215.5L644.3 214.3L644.8 213.1L645.3 212.0L645.9 210.8L646.4 209.6L647.0 208.5L647.6 207.3L648.1 206.1L648.7 205.0L649.3 203.8L649.9 202.6L650.5 201.5L651.2 200.3L651.8 199.2L652.5 198.0L653.1 196.9L653.8 195.8L654.5 194.6L655.2 193.5L656.0 192.5L656.8 191.4L657.5 190.4L658.4 189.4L659.2 188.4L660.1 187.4L661.0 186.5L661.9 185.6L662.9 184.7L663.9 183.9L664.9 183.1L666.0 182.4L667.1 181.7L668.3 181.0L669.4 180.4L670.7 179.9L671.9 179.4L673.2 178.9L674.4 178.5L675.7 178.2L677.0 177.9L678.4 177.6L679.7 177.5L681.0 177.4L682.3 177.3L683.6 177.3L684.9 177.4L686.2 177.5L687.4 177.8L688.7 178.0L689.9 178.4L691.1 178.8L692.3 179.3L693.4 179.9L694.5 180.5L695.5 181.2L696.6 181.9L697.6 182.7L698.6 183.6L699.5 184.4L700.5 185.3L701.4 186.3L702.3 187.2L703.2 188.2L704.0 189.2L704.9 190.2L705.7 191.2L706.5 192.2L707.3 193.3L708.1 194.3L708.8 195.3L709.6 196.4L710.3 197.5L711.0 198.5L711.8 199.6L712.4 200.7L713.1 201.8L713.8 202.9L714.5 204.0L715.1 205.1L715.7 206.2L716.4 207.3L717.0 208.5L717.6 209.6L718.2 210.8L718.8 211.9L719.3 213.1L719.9 214.2L720.5 215.4L721.0 216.6L721.6 217.7L722.1 218.9L722.6 220.1L723.1 221.3L723.7 222.5L724.2 223.7L724.7 224.9L725.2 226.1L725.6 227.3L726.1 228.5L726.6 229.7L727.1 230.9L727.6 232.1L728.0 233.3L728.5 234.5L729.0 235.7L729.4 237.0L729.9 238.2L730.4 239.4L730.8 240.6L731.3 241.8L731.7 243.1L732.2 244.3L732.7 245.5L733.1 246.7L733.6 248.0L734.0 249.2L734.5 250.4L735.0 251.6L735.4 252.8L735.9 254.0L736.4 255.3L736.8 256.5L737.3 257.7L737.8 258.9L738.3 260.1L738.7 261.3L739.2 262.5L739.7 263.7L740.2 264.9L740.7 266.1L741.1 267.3L741.6 268.6L742.1 269.8L742.6 271.0L743.1 272.2L743.6 273.4L744.1 274.6L744.5 275.8L745.0 277.0L745.5 278.2L746.0 279.4L746.5 280.6L747.0 281.8L747.5 283.0L748.0 284.2L748.4 285.4L748.9 286.6L749.4 287.8L749.9 289.0L750.4 290.2L750.9 291.4L751.3 292.6L751.8 293.8L752.3 295.0L752.8 296.2L753.3 297.4L753.7 298.6L754.2 299.8L754.7 301.0L755.2 302.2L755.6 303.4L756.1 304.6L756.6 305.8L757.0 307.0L757.5 308.2L757.9 309.4L758.4 310.7L758.9 311.9L759.3 313.1L759.8 314.3L760.2 315.5L760.7 316.7L761.1 317.9L761.5 319.1L762.0 320.4L762.4 321.6L762.8 322.8L763.3 324.0L763.7 325.3L764.1 326.5L764.5 327.7L764.9 328.9L765.3 330.2L765.7 331.4L766.1 332.6L766.5 333.9L766.9 335.1L767.3 336.3L767.7 337.6L768.1 338.8L768.5 340.0L768.8 341.3L769.2 342.5L769.6 343.8L769.9 345.0L770.3 346.3L770.7 347.5L771.0 348.8L771.4 350.0L771.7 351.3L772.0 352.5L772.4 353.8L772.7 355.0L773.0 356.3L773.4 357.6L773.7 358.8L774.0 360.1L774.3 361.3L774.7 362.6L775.0 363.9L775.3 365.1L775.6 366.4L775.9 367.7L776.2 368.9L776.5 370.2L776.8 371.5L777.0 372.7L777.3 374.0L777.6 375.3L777.9 376.6L778.2 377.8L778.4 379.1L778.7 380.4L779.0 381.7L779.2 382.9L779.5 384.2L779.7 385.5L780.0 386.8L780.3 388.0L780.5 389.3L780.7 390.6L781.0 391.9L781.2 393.2L781.5 394.4L781.7 395.7L781.9 397.0L782.1 398.3L782.4 399.6L782.6 400.8L782.8 402.1L783.0 403.4L783.2 404.7L783.5 406.0L783.7 407.3L783.9 408.5L784.1 409.8L784.3 411.1L784.5 412.4L784.7 413.7L784.8 415.0L785.0 416.2L785.2 417.5L785.4 418.8L785.6 420.1L785.8 421.4L785.9 422.6L786.1 423.9L786.3 425.2L786.5 426.5L786.6 427.8L786.8 429.1L787.0 430.3L787.1 431.6L787.3 432.9L787.4 434.2L787.6 435.5L787.7 436.7L787.9 438.0L788.0 439.3L788.2 440.6L788.3 441.8L788.5 443.1"/><path transform="translate(0.27 0)" d="M182.5 519.8L182.9 518.6L183.3 517.3L183.7 516.1L184.1 514.8L184.5 513.6L184.8 512.3L185.2 511.1L185.6 509.9L186.0 508.6L186.3 507.4L186.7 506.1L187.1 504.9L187.5 503.6L187.8 502.4L188.2 501.1L188.6 499.9L189.0 498.7L189.3 497.4L189.7 496.2L190.1 494.9L190.4 493.7L190.8 492.4L191.2 491.2L191.5 489.9L191.9 488.7L192.3 487.4L192.6 486.2L193.0 485.0L193.4 483.7L193.7 482.5L194.1 481.2L194.5 480.0L194.8 478.7L195.2 477.5L195.5 476.2L195.9 475.0L196.3 473.7L196.6 472.5L197.0 471.3L197.3 470.0L197.7 468.8L198.1 467.5L198.4 466.3L198.8 465.0L199.1 463.8L199.5 462.5L199.9 461.3L200.2 460.0L200.6 458.8L200.9 457.6L201.3 456.3L201.7 455.1L202.0 453.8L202.4 452.6L202.7 451.3L203.1 450.1L203.5 448.8L203.8 447.6L204.2 446.3L204.5 445.1L204.9 443.9L205.3 442.6L205.6 441.4L206.0 440.1L206.4 438.9L206.7 437.6L207.1 436.4L207.4 435.1L207.8 433.9L208.2 432.7L208.5 431.4L208.9 430.2L209.3 428.9L209.6 427.7L210.0 426.4L210.4 425.2L210.8 424.0L211.1 422.7L211.5 421.5L211.9 420.2L212.2 419.0L212.6 417.8L213.0 416.5L213.4 415.3L213.7 414.0L214.1 412.8L214.5 411.6L214.9 410.3L215.3 409.1L215.6 407.8L216.0 406.6L216.4 405.4L216.8 404.1L217.2 402.9L217.6 401.6L217.9 400.4L218.3 399.2L218.7 397.9L219.1 396.7L219.5 395.5L219.9 394.2L220.3 393.0L220.7 391.8L221.1 390.5L221.5 389.3L221.9 388.1L222.3 386.8L222.7 385.6L223.1 384.4L223.5 383.1L223.9 381.9L224.3 380.7L224.7 379.4L225.2 378.2L225.6 377.0L226.0 375.7L226.4 374.5L226.8 373.3L227.2 372.0L227.7 370.8L228.1 369.6L228.5 368.4L229.0 367.1L229.4 365.9L229.8 364.7L230.3 363.4L230.7 362.2L231.1 361.0L231.6 359.8L232.0 358.5L232.5 357.3L232.9 356.1L233.4 354.9L233.8 353.7L234.3 352.4L234.7 351.2L235.2 350.0L235.6 348.8L236.1 347.6L236.6 346.3L237.1 345.1L237.6 343.9L238.0 342.7L238.5 341.5L239.0 340.3L239.5 339.1L240.0 337.9L240.6 336.7L241.1 335.5L241.6 334.4L242.1 333.2L242.7 332.0L243.2 330.8L243.8 329.6L244.3 328.5L244.9 327.3L245.5 326.1L246.0 325.0L246.6 323.8L247.2 322.7L247.8 321.5L248.4 320.4L249.1 319.3L249.7 318.1L250.3 317.0L251.0 315.9L251.6 314.8L252.3 313.7L253.0 312.6L253.7 311.5L254.4 310.4L255.1 309.3L255.8 308.2L256.5 307.1L257.3 306.1L258.0 305.0L258.8 304.0L259.6 302.9L260.4 301.9L261.2 300.9L262.0 299.9L262.8 299.0L263.7 298.0L264.6 297.1L265.5 296.2L266.4 295.3L267.3 294.4L268.3 293.5L269.3 292.7L270.3 291.9L271.3 291.1L272.4 290.4L273.5 289.7L274.6 289.0L275.7 288.3L276.8 287.7L278.0 287.1L279.2 286.5L280.5 286.0L281.7 285.6L283.0 285.1L284.2 284.7L285.5 284.4L286.8 284.1L288.1 283.8L289.4 283.6L290.8 283.5L292.1 283.4L293.4 283.4L294.7 283.4L296.0 283.5L297.3 283.6L298.5 283.9L299.8 284.2L301.0 284.5L302.2 284.9L303.5 285.4L304.6 286.0L305.8 286.5L307.0 287.1L308.1 287.8L309.2 288.5L310.3 289.2L311.4 289.9L312.4 290.6L313.5 291.4L314.5 292.2L315.5 293.0L316.5 293.8L317.4 294.6L318.4 295.4L319.3 296.3L320.3 297.2L321.2 298.1L322.1 299.0L323.0 299.9L323.8 300.9L324.7 301.8L325.5 302.8L326.4 303.8L327.2 304.8L328.0 305.8L328.8 306.8L329.6 307.8L330.4 308.8L331.2 309.9L331.9 310.9L332.7 312.0L333.4 313.1L334.2 314.1L334.9 315.2L335.7 316.3L336.4 317.4L337.1 318.5L337.8 319.6L338.5 320.7L339.2 321.8L339.9 322.9L340.7 324.0L341.4 325.1L342.1 326.2L342.7 327.3L343.4 328.4L344.1 329.6L344.8 330.7L345.5 331.8L346.2 332.9L346.9 334.0L347.6 335.1L348.3 336.2L349.0 337.3L349.7 338.4L350.4 339.5L351.1 340.6L351.7 341.7L352.4 342.8L353.1 344.0L353.8 345.1L354.5 346.2L355.2 347.3L355.9 348.4L356.6 349.5L357.2 350.6L357.9 351.7L358.6 352.8L359.3 353.9L360.0 355.0L360.6 356.1L361.3 357.2L362.0 358.3L362.7 359.4L363.4 360.5L364.0 361.6L364.7 362.7L365.4 363.8L366.1 364.9L366.7 366.0L367.4 367.1L368.1 368.2L368.8 369.3L369.4 370.4L370.1 371.5L370.8 372.6L371.4 373.7L372.1 374.8L372.8 375.9L373.4 377.0L374.1 378.1L374.8 379.3L375.4 380.4L376.1 381.5L376.8 382.6L377.4 383.7L378.1 384.8L378.8 385.9L379.4 387.0L380.1 388.1L380.7 389.2L381.4 390.3L382.1 391.5L382.7 392.6L383.4 393.7L384.0 394.8L384.7 395.9L385.3 397.0L386.0 398.1L386.7 399.3L387.3 400.4L388.0 401.5L388.6 402.6L389.3 403.7L389.9 404.9L390.6 406.0L391.2 407.1L391.9 408.2L392.5 409.4L393.2 410.5L393.8 411.6L394.4 412.7L395.1 413.9L395.7 415.0L396.4 416.1L397.0 417.3L397.7 418.4L398.3 419.6L399.0 420.7L399.6 421.8L400.3 422.9L400.9 424.1L401.6 425.2L402.3 426.3L403.0 427.4L403.7 428.5L404.4 429.6L405.2 430.6L405.9 431.7L406.7 432.7L407.5 433.8L408.4 434.8L409.2 435.8L410.1 436.7L411.0 437.7L411.9 438.6L412.9 439.5L413.9 440.4L415.0 441.3L416.0 442.0L417.1 442.7L418.3 443.2L419.4 443.4L420.6 443.3L421.8 442.9L423.0 442.4L424.1 441.8L425.2 441.0L426.3 440.2L427.2 439.4L428.2 438.5L429.1 437.6L430.0 436.6L430.8 435.6L431.6 434.6L432.4 433.6L433.1 432.5L433.8 431.4L434.5 430.3L435.2 429.1L435.9 428.0L436.5 426.8L437.2 425.7L437.8 424.5L438.5 423.4L439.1 422.2L439.8 421.1L440.5 420.0L441.2 418.9L441.9 417.8L442.6 416.7L443.3 415.6L444.0 414.5L444.7 413.5L445.5 412.5L446.2 411.4L447.0 410.4L447.8 409.4L448.6 408.3L449.3 407.3L450.2 406.3L451.0 405.3L451.8 404.3L452.6 403.3L453.4 402.3L454.3 401.3L455.1 400.3L456.0 399.3L456.8 398.3L457.7 397.4L458.6 396.4L459.4 395.4L460.3 394.5L461.2 393.5L462.1 392.5L463.0 391.6L463.9 390.7L464.8 389.8L465.7 388.8L466.7 388.0L467.6 387.1L468.6 386.2L469.5 385.4L470.5 384.5L471.5 383.7L472.5 383.0L473.6 382.2L474.6 381.5L475.7 380.8L476.8 380.1L477.9 379.5L479.0 378.8L480.2 378.2L481.4 377.7L482.6 377.2L483.8 376.7L485.0 376.2L486.3 375.8L487.6 375.4L488.9 375.0L490.2 374.6L491.5 374.2L492.8 373.8L494.1 373.5L495.4 373.1L496.6 372.7L497.9 372.3L499.2 371.9L500.4 371.4L501.7 371.0L502.9 370.5L504.1 370.0L505.2 369.4L506.3 368.8L507.4 368.2L508.5 367.6L509.6 366.9L510.6 366.2L511.6 365.4L512.6 364.7L513.6 363.9L514.5 363.1L515.4 362.2L516.4 361.4L517.2 360.5L518.1 359.6L519.0 358.6L519.8 357.7L520.6 356.7L521.5 355.8L522.3 354.8L523.1 353.7L523.8 352.7L524.6 351.7L525.4 350.6L526.1 349.6L526.9 348.5L527.6 347.4L528.3 346.3L529.0 345.2L529.8 344.1L530.5 343.0L531.2 341.9L531.9 340.8L532.6 339.6L533.3 338.5L534.0 337.4L534.7 336.3L535.4 335.2L536.2 334.0L536.9 332.9L537.6 331.8L538.3 330.7L539.0 329.6L539.8 328.5L540.5 327.4L541.3 326.3L542.0 325.3L542.8 324.2L543.6 323.2L544.4 322.2L545.2 321.1L546.0 320.1L546.9 319.2L547.7 318.2L548.6 317.3L549.5 316.3L550.3 315.4L551.3 314.5L552.2 313.7L553.1 312.8L554.1 312.0L555.1 311.2L556.1 310.4L557.1 309.6L558.1 308.9L559.2 308.2L560.2 307.5L561.3 306.8L562.4 306.1L563.5 305.5L564.6 304.9L565.8 304.3L566.9 303.8L568.1 303.2L569.3 302.7L570.5 302.2L571.8 301.8L573.0 301.3L574.3 300.9L575.6 300.5L576.8 300.1L578.2 299.8L579.5 299.5L580.8 299.1L582.1 298.8L583.4 298.5L584.7 298.2L586.1 297.8L587.4 297.5L588.6 297.1L589.9 296.7L591.2 296.3L592.4 295.9L593.6 295.4L594.8 294.9L596.0 294.4L597.1 293.8L598.2 293.2L599.3 292.5L600.4 291.9L601.4 291.2L602.4 290.5L603.4 289.7L604.4 289.0L605.4 288.2L606.3 287.3L607.2 286.5L608.1 285.6L609.0 284.7L609.9 283.8L610.7 282.9L611.6 281.9L612.4 280.9L613.2 279.9L614.0 278.9L614.7 277.9L615.5 276.8L616.2 275.8L616.9 274.7L617.6 273.6L618.3 272.5L619.0 271.4L619.7 270.3L620.3 269.1L621.0 268.0L621.6 266.8L622.2 265.6L622.8 264.5L623.4 263.3L624.0 262.1L624.6 260.9L625.2 259.7L625.7 258.5L626.3 257.3L626.8 256.1L627.4 254.8L627.9 253.6L628.4 252.4L629.0 251.2L629.5 250.0L630.0 248.8L630.5 247.6L631.0 246.4L631.5 245.2L632.0 244.0L632.5 242.8L633.0 241.6L633.4 240.4L633.9 239.2L634.4 238.0L634.9 236.8L635.4 235.6L635.8 234.4L636.3 233.2L636.8 232.0L637.3 230.8L637.8 229.6L638.2 228.4L638.7 227.3L639.2 226.1L639.7 224.9L640.2 223.7L640.7 222.5L641.2 221.4L641.7 220.2L642.2 219.0L642.7 217.8L643.2 216.7L643.7 215.5L644.3 214.3L644.8 213.1L645.3 212.0L645.9 210.8L646.4 209.6L647.0 208.5L647.6 207.3L648.1 206.1L648.7 205.0L649.3 203.8L649.9 202.6L650.5 201.5L651.2 200.3L651.8 199.2L652.5 198.0L653.1 196.9L653.8 195.8L654.5 194.6L655.2 193.5L656.0 192.5L656.8 191.4L657.5 190.4L658.4 189.4L659.2 188.4L660.1 187.4L661.0 186.5L661.9 185.6L662.9 184.7L663.9 183.9L664.9 183.1L666.0 182.4L667.1 181.7L668.3 181.0L669.4 180.4L670.7 179.9L671.9 179.4L673.2 178.9L674.4 178.5L675.7 178.2L677.0 177.9L678.4 177.6L679.7 177.5L681.0 177.4L682.3 177.3L683.6 177.3L684.9 177.4L686.2 177.5L687.4 177.8L688.7 178.0L689.9 178.4L691.1 178.8L692.3 179.3L693.4 179.9L694.5 180.5L695.5 181.2L696.6 181.9L697.6 182.7L698.6 183.6L699.5 184.4L700.5 185.3L701.4 186.3L702.3 187.2L703.2 188.2L704.0 189.2L704.9 190.2L705.7 191.2L706.5 192.2L707.3 193.3L708.1 194.3L708.8 195.3L709.6 196.4L710.3 197.5L711.0 198.5L711.8 199.6L712.4 200.7L713.1 201.8L713.8 202.9L714.5 204.0L715.1 205.1L715.7 206.2L716.4 207.3L717.0 208.5L717.6 209.6L718.2 210.8L718.8 211.9L719.3 213.1L719.9 214.2L720.5 215.4L721.0 216.6L721.6 217.7L722.1 218.9L722.6 220.1L723.1 221.3L723.7 222.5L724.2 223.7L724.7 224.9L725.2 226.1L725.6 227.3L726.1 228.5L726.6 229.7L727.1 230.9L727.6 232.1L728.0 233.3L728.5 234.5L729.0 235.7L729.4 237.0L729.9 238.2L730.4 239.4L730.8 240.6L731.3 241.8L731.7 243.1L732.2 244.3L732.7 245.5L733.1 246.7L733.6 248.0L734.0 249.2L734.5 250.4L735.0 251.6L735.4 252.8L735.9 254.0L736.4 255.3L736.8 256.5L737.3 257.7L737.8 258.9L738.3 260.1L738.7 261.3L739.2 262.5L739.7 263.7L740.2 264.9L740.7 266.1L741.1 267.3L741.6 268.6L742.1 269.8L742.6 271.0L743.1 272.2L743.6 273.4L744.1 274.6L744.5 275.8L745.0 277.0L745.5 278.2L746.0 279.4L746.5 280.6L747.0 281.8L747.5 283.0L748.0 284.2L748.4 285.4L748.9 286.6L749.4 287.8L749.9 289.0L750.4 290.2L750.9 291.4L751.3 292.6L751.8 293.8L752.3 295.0L752.8 296.2L753.3 297.4L753.7 298.6L754.2 299.8L754.7 301.0L755.2 302.2L755.6 303.4L756.1 304.6L756.6 305.8L757.0 307.0L757.5 308.2L757.9 309.4L758.4 310.7L758.9 311.9L759.3 313.1L759.8 314.3L760.2 315.5L760.7 316.7L761.1 317.9L761.5 319.1L762.0 320.4L762.4 321.6L762.8 322.8L763.3 324.0L763.7 325.3L764.1 326.5L764.5 327.7L764.9 328.9L765.3 330.2L765.7 331.4L766.1 332.6L766.5 333.9L766.9 335.1L767.3 336.3L767.7 337.6L768.1 338.8L768.5 340.0L768.8 341.3L769.2 342.5L769.6 343.8L769.9 345.0L770.3 346.3L770.7 347.5L771.0 348.8L771.4 350.0L771.7 351.3L772.0 352.5L772.4 353.8L772.7 355.0L773.0 356.3L773.4 357.6L773.7 358.8L774.0 360.1L774.3 361.3L774.7 362.6L775.0 363.9L775.3 365.1L775.6 366.4L775.9 367.7L776.2 368.9L776.5 370.2L776.8 371.5L777.0 372.7L777.3 374.0L777.6 375.3L777.9 376.6L778.2 377.8L778.4 379.1L778.7 380.4L779.0 381.7L779.2 382.9L779.5 384.2L779.7 385.5L780.0 386.8L780.3 388.0L780.5 389.3L780.7 390.6L781.0 391.9L781.2 393.2L781.5 394.4L781.7 395.7L781.9 397.0L782.1 398.3L782.4 399.6L782.6 400.8L782.8 402.1L783.0 403.4L783.2 404.7L783.5 406.0L783.7 407.3L783.9 408.5L784.1 409.8L784.3 411.1L784.5 412.4L784.7 413.7L784.8 415.0L785.0 416.2L785.2 417.5L785.4 418.8L785.6 420.1L785.8 421.4L785.9 422.6L786.1 423.9L786.3 425.2L786.5 426.5L786.6 427.8L786.8 429.1L787.0 430.3L787.1 431.6L787.3 432.9L787.4 434.2L787.6 435.5L787.7 436.7L787.9 438.0L788.0 439.3L788.2 440.6L788.3 441.8L788.5 443.1"/></g>
</g>
<path d="M183.05 104.6L189.4 117.45L176.7 117.45Z" fill="none" stroke="#065f06" stroke-width="1.6" stroke-linejoin="round"/>
<circle cx="183.00" cy="152.80" r="7.50" fill="#ff0000"/>
<rect x="177.05" y="189.15" width="12.20" height="12.20" fill="none" stroke="#0000ff" stroke-width="1.5"/>
<path transform="translate(210.40 119.30)" d="M2.66 -13.34L8.64 -13.34M2.66 -13.34L2.66 0.00M8.64 -13.34L10.64 -12.70M10.64 -12.70L11.30 -12.06M11.30 -12.06L11.97 -10.79M11.97 -10.79L11.97 -8.89M11.97 -8.89L11.30 -7.62M11.30 -7.62L10.64 -6.99M10.64 -6.99L8.64 -6.35M2.66 -6.35L8.64 -6.35M16.62 -8.89L16.62 0.00M19.95 -8.89L21.95 -8.89M19.95 -8.89L18.62 -8.26M18.62 -8.26L17.29 -6.99M17.29 -6.99L16.62 -5.08M27.93 -8.89L29.93 -8.89M27.93 -8.89L26.60 -8.26M29.93 -8.89L31.26 -8.26M26.60 -8.26L25.27 -6.99M31.26 -8.26L31.92 -7.62M31.92 -7.62L32.59 -6.35M25.27 -6.99L24.61 -5.08M32.59 -6.35L32.59 -5.08M24.61 -5.08L32.59 -5.08M24.61 -5.08L24.61 -3.81M24.61 -3.81L25.27 -1.91M25.27 -1.91L26.60 -0.64M32.59 -1.91L31.26 -0.64M26.60 -0.64L27.93 0.00M31.26 -0.64L29.93 0.00M27.93 0.00L29.93 0.00M37.24 -5.71L49.21 -5.71M54.53 -13.34L63.18 -13.34M54.53 -13.34L54.53 0.00M54.53 -6.99L59.85 -6.99M66.50 -13.34L66.50 0.00M74.48 -8.89L76.48 -8.89M74.48 -8.89L73.15 -8.26M76.48 -8.89L77.81 -8.26M79.14 -8.89L79.14 0.00M73.15 -8.26L71.82 -6.99M77.81 -8.26L79.14 -6.99M71.82 -6.99L71.16 -5.08M71.16 -5.08L71.16 -3.81M71.16 -3.81L71.82 -1.91M71.82 -1.91L73.15 -0.64M79.14 -1.91L77.81 -0.64M73.15 -0.64L74.48 0.00M77.81 -0.64L76.48 0.00M74.48 0.00L76.48 0.00M84.45 -8.89L84.45 0.00M87.78 -8.89L89.78 -8.89M87.78 -8.89L86.45 -8.26M86.45 -8.26L85.12 -6.99M85.12 -6.99L84.45 -5.08M95.76 -8.89L97.76 -8.89M95.76 -8.89L94.43 -8.26M97.76 -8.89L99.09 -8.26M94.43 -8.26L93.10 -6.99M99.09 -8.26L99.75 -7.62M99.75 -7.62L100.42 -6.35M93.10 -6.99L92.44 -5.08M100.42 -6.35L100.42 -5.08M92.44 -5.08L100.42 -5.08M92.44 -5.08L92.44 -3.81M92.44 -3.81L93.10 -1.91M93.10 -1.91L94.43 -0.64M100.42 -1.91L99.09 -0.64M94.43 -0.64L95.76 0.00M99.09 -0.64L97.76 0.00M95.76 0.00L97.76 0.00" fill="none" stroke="#065f06" stroke-width="1.5" stroke-linecap="round" stroke-linejoin="round"/>
<path transform="translate(209.94 158.00)" d="M2.66 -13.34L11.30 -13.34M2.66 -13.34L2.66 0.00M2.66 -6.99L7.98 -6.99M14.63 -13.34L14.63 0.00M22.61 -8.89L24.61 -8.89M22.61 -8.89L21.28 -8.26M24.61 -8.89L25.94 -8.26M27.27 -8.89L27.27 0.00M21.28 -8.26L19.95 -6.99M25.94 -8.26L27.27 -6.99M19.95 -6.99L19.29 -5.08M19.29 -5.08L19.29 -3.81M19.29 -3.81L19.95 -1.91M19.95 -1.91L21.28 -0.64M27.27 -1.91L25.94 -0.64M21.28 -0.64L22.61 0.00M25.94 -0.64L24.61 0.00M22.61 0.00L24.61 0.00M32.59 -8.89L32.59 0.00M35.91 -8.89L37.91 -8.89M35.91 -8.89L34.58 -8.26M34.58 -8.26L33.25 -6.99M33.25 -6.99L32.59 -5.08M43.89 -8.89L45.89 -8.89M43.89 -8.89L42.56 -8.26M45.89 -8.89L47.22 -8.26M42.56 -8.26L41.23 -6.99M47.22 -8.26L47.88 -7.62M47.88 -7.62L48.55 -6.35M41.23 -6.99L40.57 -5.08M48.55 -6.35L48.55 -5.08M40.57 -5.08L48.55 -5.08M40.57 -5.08L40.57 -3.81M40.57 -3.81L41.23 -1.91M41.23 -1.91L42.56 -0.64M48.55 -1.91L47.22 -0.64M42.56 -0.64L43.89 0.00M47.22 -0.64L45.89 0.00M43.89 0.00L45.89 0.00" fill="none" stroke="#ff0000" stroke-width="1.5" stroke-linecap="round" stroke-linejoin="round"/>
<path transform="translate(209.94 200.30)" d="M2.66 -13.34L8.64 -13.34M2.66 -13.34L2.66 0.00M8.64 -13.34L10.64 -12.70M10.64 -12.70L11.30 -12.06M11.30 -12.06L11.97 -10.79M11.97 -10.79L11.97 -8.89M11.97 -8.89L11.30 -7.62M11.30 -7.62L10.64 -6.99M10.64 -6.99L8.64 -6.35M2.66 -6.35L8.64 -6.35M19.29 -8.89L21.28 -8.89M19.29 -8.89L17.96 -8.26M21.28 -8.89L22.61 -8.26M17.96 -8.26L16.62 -6.99M22.61 -8.26L23.94 -6.99M16.62 -6.99L15.96 -5.08M23.94 -6.99L24.61 -5.08M15.96 -5.08L15.96 -3.81M24.61 -5.08L24.61 -3.81M15.96 -3.81L16.62 -1.91M24.61 -3.81L23.94 -1.91M16.62 -1.91L17.96 -0.64M23.94 -1.91L22.61 -0.64M17.96 -0.64L19.29 0.00M22.61 -0.64L21.28 0.00M19.29 0.00L21.28 0.00M31.26 -8.89L33.25 -8.89M31.26 -8.89L29.26 -8.26M33.25 -8.89L35.25 -8.26M29.26 -8.26L28.60 -6.99M35.25 -8.26L35.91 -6.99M28.60 -6.99L29.26 -5.71M29.26 -5.71L30.59 -5.08M30.59 -5.08L33.91 -4.45M33.91 -4.45L35.25 -3.81M35.25 -3.81L35.91 -2.54M35.91 -2.54L35.91 -1.91M28.60 -1.91L29.26 -0.64M35.91 -1.91L35.25 -0.64M29.26 -0.64L31.26 0.00M35.25 -0.64L33.25 0.00M31.26 0.00L33.25 0.00M41.23 -13.34L41.23 -2.54M39.23 -8.89L43.89 -8.89M41.23 -2.54L41.90 -0.64M41.90 -0.64L43.23 0.00M43.23 0.00L44.55 0.00M48.55 -5.71L60.52 -5.71M68.50 -13.34L69.83 -13.34M68.50 -13.34L67.17 -12.70M67.17 -12.70L66.50 -10.79M66.50 -10.79L66.50 0.00M64.51 -8.89L69.16 -8.89M73.81 -13.34L73.81 0.00M81.80 -8.89L83.79 -8.89M81.80 -8.89L80.47 -8.26M83.79 -8.89L85.12 -8.26M86.45 -8.89L86.45 0.00M80.47 -8.26L79.14 -6.99M85.12 -8.26L86.45 -6.99M79.14 -6.99L78.47 -5.08M78.47 -5.08L78.47 -3.81M78.47 -3.81L79.14 -1.91M79.14 -1.91L80.47 -0.64M86.45 -1.91L85.12 -0.64M80.47 -0.64L81.80 0.00M85.12 -0.64L83.79 0.00M81.80 0.00L83.79 0.00M91.77 -8.89L91.77 0.00M95.09 -8.89L97.09 -8.89M95.09 -8.89L93.77 -8.26M93.77 -8.26L92.44 -6.99M92.44 -6.99L91.77 -5.08M103.08 -8.89L105.07 -8.89M103.08 -8.89L101.75 -8.26M105.07 -8.89L106.40 -8.26M101.75 -8.26L100.42 -6.99M106.40 -8.26L107.07 -7.62M107.07 -7.62L107.73 -6.35M100.42 -6.99L99.75 -5.08M107.73 -6.35L107.73 -5.08M99.75 -5.08L107.73 -5.08M99.75 -5.08L99.75 -3.81M99.75 -3.81L100.42 -1.91M100.42 -1.91L101.75 -0.64M107.73 -1.91L106.40 -0.64M101.75 -0.64L103.08 0.00M106.40 -0.64L105.07 0.00M103.08 0.00L105.07 0.00" fill="none" stroke="#0000ff" stroke-width="1.5" stroke-linecap="round" stroke-linejoin="round"/>
</svg>
</body></html>
